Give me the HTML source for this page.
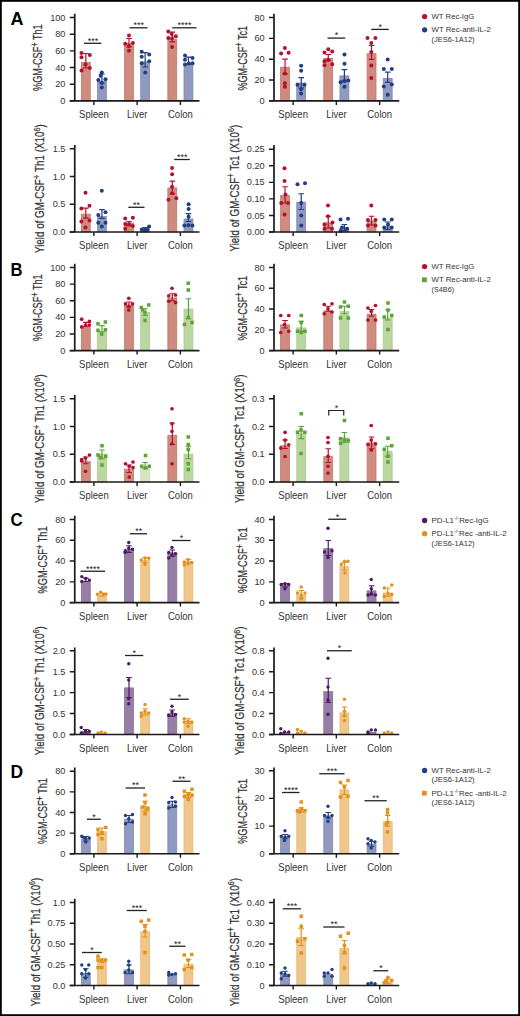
<!DOCTYPE html>
<html><head><meta charset="utf-8"><style>
html,body{margin:0;padding:0;background:#fff;}
body{width:520px;height:1016px;overflow:hidden;}
svg{display:block;font-family:"Liberation Sans", sans-serif;}
</style></head><body>
<svg width="520" height="1016" viewBox="0 0 520 1016">
<rect x="0" y="0" width="520" height="1016" fill="#fff"/>
<rect x="81.35" y="62.4" width="8.9" height="38.5" fill="#CF8B7F" stroke="#C47868" stroke-width="0.8"/>
<rect x="97.5" y="81.2" width="8.9" height="19.7" fill="#9199C0" stroke="#8089B6" stroke-width="0.8"/>
<rect x="124.55" y="43.4" width="8.9" height="57.5" fill="#CF8B7F" stroke="#C47868" stroke-width="0.8"/>
<rect x="140.7" y="61.9" width="8.9" height="39" fill="#9199C0" stroke="#8089B6" stroke-width="0.8"/>
<rect x="167.85" y="39.2" width="8.9" height="61.7" fill="#CF8B7F" stroke="#C47868" stroke-width="0.8"/>
<rect x="184" y="63.9" width="8.9" height="37" fill="#9199C0" stroke="#8089B6" stroke-width="0.8"/>
<circle cx="81.5" cy="53.1" r="2" fill="#B5112F"/>
<circle cx="89.8" cy="55.1" r="2" fill="#B5112F"/>
<circle cx="81.5" cy="57.2" r="2" fill="#B5112F"/>
<circle cx="85.5" cy="64.6" r="2" fill="#B5112F"/>
<circle cx="89.8" cy="68" r="2" fill="#B5112F"/>
<circle cx="81.5" cy="70.5" r="2" fill="#B5112F"/>
<path d="M85.8 53.5V68M83 68H88.6M83 53.5H88.6" stroke="#B5112F" stroke-width="1.2" fill="none"/>
<circle cx="101.8" cy="72.6" r="2" fill="#1F3F82"/>
<circle cx="100.6" cy="75.7" r="2" fill="#1F3F82"/>
<circle cx="98.3" cy="80" r="2" fill="#1F3F82"/>
<circle cx="105.5" cy="79.2" r="2" fill="#1F3F82"/>
<circle cx="101.8" cy="83.1" r="2" fill="#1F3F82"/>
<circle cx="101.8" cy="87.4" r="2" fill="#1F3F82"/>
<path d="M101.95 74V83M99.15 83H104.75M99.15 74H104.75" stroke="#1F3F82" stroke-width="1.2" fill="none"/>
<circle cx="129" cy="35.4" r="2" fill="#B5112F"/>
<circle cx="125.2" cy="43.8" r="2" fill="#B5112F"/>
<circle cx="132.9" cy="43.1" r="2" fill="#B5112F"/>
<circle cx="129" cy="46" r="2" fill="#B5112F"/>
<circle cx="129" cy="50.8" r="2" fill="#B5112F"/>
<path d="M129 38.5V47M126.2 47H131.8M126.2 38.5H131.8" stroke="#B5112F" stroke-width="1.2" fill="none"/>
<circle cx="141.7" cy="51.7" r="2" fill="#1F3F82"/>
<circle cx="149.2" cy="54.4" r="2" fill="#1F3F82"/>
<circle cx="141.7" cy="56.7" r="2" fill="#1F3F82"/>
<circle cx="149.2" cy="61.3" r="2" fill="#1F3F82"/>
<circle cx="141.7" cy="63.3" r="2" fill="#1F3F82"/>
<circle cx="145.2" cy="72.5" r="2" fill="#1F3F82"/>
<path d="M145.15 52.6V67M142.35 67H147.95M142.35 52.6H147.95" stroke="#1F3F82" stroke-width="1.2" fill="none"/>
<circle cx="168.3" cy="31.5" r="2" fill="#B5112F"/>
<circle cx="171.7" cy="34.1" r="2" fill="#B5112F"/>
<circle cx="175.8" cy="36.2" r="2" fill="#B5112F"/>
<circle cx="168.3" cy="37.9" r="2" fill="#B5112F"/>
<circle cx="172" cy="38.5" r="2" fill="#B5112F"/>
<circle cx="172.1" cy="47.1" r="2" fill="#B5112F"/>
<path d="M172.3 32.1V41.9M169.5 41.9H175.1M169.5 32.1H175.1" stroke="#B5112F" stroke-width="1.2" fill="none"/>
<circle cx="185" cy="55.5" r="2" fill="#1F3F82"/>
<circle cx="192.5" cy="58.1" r="2" fill="#1F3F82"/>
<circle cx="185" cy="59.8" r="2" fill="#1F3F82"/>
<circle cx="185" cy="64.4" r="2" fill="#1F3F82"/>
<circle cx="188.8" cy="63.5" r="2" fill="#1F3F82"/>
<circle cx="192.5" cy="63.3" r="2" fill="#1F3F82"/>
<path d="M188.45 57.1V64.4M185.65 64.4H191.25M185.65 57.1H191.25" stroke="#1F3F82" stroke-width="1.2" fill="none"/>
<path d="M74.75 13.75V100.9M69.75 100.9H199.5" stroke="#1a1a1a" stroke-width="1.7" fill="none"/>
<path d="M69.75 17.5H74.75M69.75 34.18H74.75M69.75 50.86H74.75M69.75 67.54H74.75M69.75 84.22H74.75M69.75 100.9H74.75M93.9 100.9V104.9M137.1 100.9V104.9M180.4 100.9V104.9" stroke="#1a1a1a" stroke-width="1.4" fill="none"/>
<text x="65.45" y="20.55" font-size="9.3" fill="#333" text-anchor="end" textLength="15.28" lengthAdjust="spacingAndGlyphs">100</text>
<text x="65.45" y="37.23" font-size="9.3" fill="#333" text-anchor="end" textLength="10.19" lengthAdjust="spacingAndGlyphs">80</text>
<text x="65.45" y="53.91" font-size="9.3" fill="#333" text-anchor="end" textLength="10.19" lengthAdjust="spacingAndGlyphs">60</text>
<text x="65.45" y="70.59" font-size="9.3" fill="#333" text-anchor="end" textLength="10.19" lengthAdjust="spacingAndGlyphs">40</text>
<text x="65.45" y="87.27" font-size="9.3" fill="#333" text-anchor="end" textLength="10.19" lengthAdjust="spacingAndGlyphs">20</text>
<text x="65.45" y="103.95" font-size="9.3" fill="#333" text-anchor="end" textLength="5.09" lengthAdjust="spacingAndGlyphs">0</text>
<text x="93.9" y="118.2" font-size="10.9" fill="#333" text-anchor="middle" textLength="29.6" lengthAdjust="spacingAndGlyphs">Spleen</text>
<text x="137.1" y="118.2" font-size="10.9" fill="#333" text-anchor="middle" textLength="20.4" lengthAdjust="spacingAndGlyphs">Liver</text>
<text x="180.4" y="118.2" font-size="10.9" fill="#333" text-anchor="middle" textLength="24.8" lengthAdjust="spacingAndGlyphs">Colon</text>
<path d="M84 43.3H101.4" stroke="#222" stroke-width="1.3" fill="none"/>
<text x="92.9" y="43.6" font-size="8.5" fill="#222" text-anchor="middle" textLength="10.5" lengthAdjust="spacingAndGlyphs">***</text>
<path d="M129.5 27.8H147.5" stroke="#222" stroke-width="1.3" fill="none"/>
<text x="138.7" y="28.1" font-size="8.5" fill="#222" text-anchor="middle" textLength="10.5" lengthAdjust="spacingAndGlyphs">***</text>
<path d="M172.3 27.8H196.5" stroke="#222" stroke-width="1.3" fill="none"/>
<text x="184.6" y="28.1" font-size="8.5" fill="#222" text-anchor="middle" textLength="14" lengthAdjust="spacingAndGlyphs">****</text>
<text transform="translate(42 57.6) rotate(-90)" x="0" y="0" font-size="13" fill="#333" stroke="#333" stroke-width="0.22" text-anchor="middle" textLength="66.6" lengthAdjust="spacingAndGlyphs">%GM-CSF<tspan dy="-4.1" font-size="10.5">+</tspan><tspan dy="4.1"> </tspan>Th1</text>
<rect x="280.6" y="67.2" width="8.9" height="33.7" fill="#CF8B7F" stroke="#C47868" stroke-width="0.8"/>
<rect x="296.75" y="83.1" width="8.9" height="17.8" fill="#9199C0" stroke="#8089B6" stroke-width="0.8"/>
<rect x="323.8" y="58.5" width="8.9" height="42.4" fill="#CF8B7F" stroke="#C47868" stroke-width="0.8"/>
<rect x="339.95" y="75.9" width="8.9" height="25" fill="#9199C0" stroke="#8089B6" stroke-width="0.8"/>
<rect x="367.1" y="53.7" width="8.9" height="47.2" fill="#CF8B7F" stroke="#C47868" stroke-width="0.8"/>
<rect x="383.25" y="78.4" width="8.9" height="22.5" fill="#9199C0" stroke="#8089B6" stroke-width="0.8"/>
<circle cx="284.9" cy="48.1" r="2" fill="#B5112F"/>
<circle cx="281.1" cy="53.5" r="2" fill="#B5112F"/>
<circle cx="288.6" cy="52.7" r="2" fill="#B5112F"/>
<circle cx="284.9" cy="73.5" r="2" fill="#B5112F"/>
<circle cx="284.9" cy="83.2" r="2" fill="#B5112F"/>
<circle cx="284.9" cy="86.8" r="2" fill="#B5112F"/>
<path d="M285.05 59.2V73.9M282.25 73.9H287.85M282.25 59.2H287.85" stroke="#B5112F" stroke-width="1.2" fill="none"/>
<circle cx="301.1" cy="65.8" r="2" fill="#1F3F82"/>
<circle cx="301.1" cy="70.8" r="2" fill="#1F3F82"/>
<circle cx="297.5" cy="84.7" r="2" fill="#1F3F82"/>
<circle cx="304.5" cy="84.7" r="2" fill="#1F3F82"/>
<circle cx="301.1" cy="89.3" r="2" fill="#1F3F82"/>
<circle cx="301.1" cy="93.5" r="2" fill="#1F3F82"/>
<path d="M301.2 77.6V88M298.4 88H304M298.4 77.6H304" stroke="#1F3F82" stroke-width="1.2" fill="none"/>
<circle cx="324.5" cy="52.4" r="2" fill="#B5112F"/>
<circle cx="328.3" cy="49.3" r="2" fill="#B5112F"/>
<circle cx="332.2" cy="51.5" r="2" fill="#B5112F"/>
<circle cx="324.5" cy="61.2" r="2" fill="#B5112F"/>
<circle cx="328.3" cy="60.1" r="2" fill="#B5112F"/>
<circle cx="324.5" cy="65.3" r="2" fill="#B5112F"/>
<circle cx="332.2" cy="64.2" r="2" fill="#B5112F"/>
<path d="M328.25 54.5V60.4M325.45 60.4H331.05M325.45 54.5H331.05" stroke="#B5112F" stroke-width="1.2" fill="none"/>
<circle cx="344.5" cy="54.5" r="2" fill="#1F3F82"/>
<circle cx="344.5" cy="63.8" r="2" fill="#1F3F82"/>
<circle cx="340.6" cy="82.2" r="2" fill="#1F3F82"/>
<circle cx="344.5" cy="81" r="2" fill="#1F3F82"/>
<circle cx="348.3" cy="80.4" r="2" fill="#1F3F82"/>
<circle cx="344.5" cy="86.8" r="2" fill="#1F3F82"/>
<path d="M344.4 69.6V81M341.6 81H347.2M341.6 69.6H347.2" stroke="#1F3F82" stroke-width="1.2" fill="none"/>
<circle cx="367.5" cy="37.9" r="2" fill="#B5112F"/>
<circle cx="375.4" cy="37.9" r="2" fill="#B5112F"/>
<circle cx="371.3" cy="42.9" r="2" fill="#B5112F"/>
<circle cx="371.3" cy="52.1" r="2" fill="#B5112F"/>
<circle cx="371.3" cy="65.6" r="2" fill="#B5112F"/>
<circle cx="371.3" cy="78.1" r="2" fill="#B5112F"/>
<path d="M371.55 45.5V59.4M368.75 59.4H374.35M368.75 45.5H374.35" stroke="#B5112F" stroke-width="1.2" fill="none"/>
<circle cx="387.7" cy="59.6" r="2" fill="#1F3F82"/>
<circle cx="383.8" cy="69.1" r="2" fill="#1F3F82"/>
<circle cx="391.8" cy="69.1" r="2" fill="#1F3F82"/>
<circle cx="383.8" cy="86.4" r="2" fill="#1F3F82"/>
<circle cx="391.8" cy="84.4" r="2" fill="#1F3F82"/>
<circle cx="387.7" cy="94.8" r="2" fill="#1F3F82"/>
<path d="M387.7 72.1V82.4M384.9 82.4H390.5M384.9 72.1H390.5" stroke="#1F3F82" stroke-width="1.2" fill="none"/>
<path d="M274 13.75V100.9M269 100.9H399.25" stroke="#1a1a1a" stroke-width="1.7" fill="none"/>
<path d="M269 17.5H274M269 38.35H274M269 59.2H274M269 80.05H274M269 100.9H274M293.15 100.9V104.9M336.35 100.9V104.9M379.65 100.9V104.9" stroke="#1a1a1a" stroke-width="1.4" fill="none"/>
<text x="264.7" y="20.55" font-size="9.3" fill="#333" text-anchor="end" textLength="10.19" lengthAdjust="spacingAndGlyphs">80</text>
<text x="264.7" y="41.4" font-size="9.3" fill="#333" text-anchor="end" textLength="10.19" lengthAdjust="spacingAndGlyphs">60</text>
<text x="264.7" y="62.25" font-size="9.3" fill="#333" text-anchor="end" textLength="10.19" lengthAdjust="spacingAndGlyphs">40</text>
<text x="264.7" y="83.1" font-size="9.3" fill="#333" text-anchor="end" textLength="10.19" lengthAdjust="spacingAndGlyphs">20</text>
<text x="264.7" y="103.95" font-size="9.3" fill="#333" text-anchor="end" textLength="5.09" lengthAdjust="spacingAndGlyphs">0</text>
<text x="293.15" y="118.2" font-size="10.9" fill="#333" text-anchor="middle" textLength="29.6" lengthAdjust="spacingAndGlyphs">Spleen</text>
<text x="336.35" y="118.2" font-size="10.9" fill="#333" text-anchor="middle" textLength="20.4" lengthAdjust="spacingAndGlyphs">Liver</text>
<text x="379.65" y="118.2" font-size="10.9" fill="#333" text-anchor="middle" textLength="24.8" lengthAdjust="spacingAndGlyphs">Colon</text>
<path d="M327.5 38.1H345.2" stroke="#222" stroke-width="1.3" fill="none"/>
<text x="336.55" y="38.4" font-size="8.5" fill="#222" text-anchor="middle" textLength="3.5" lengthAdjust="spacingAndGlyphs">*</text>
<path d="M371.25 29.4H388.75" stroke="#222" stroke-width="1.3" fill="none"/>
<text x="380.2" y="29.7" font-size="8.5" fill="#222" text-anchor="middle" textLength="3.5" lengthAdjust="spacingAndGlyphs">*</text>
<text transform="translate(246.5 58.25) rotate(-90)" x="0" y="0" font-size="13" fill="#333" stroke="#333" stroke-width="0.22" text-anchor="middle" textLength="64.7" lengthAdjust="spacingAndGlyphs">%GM-CSF<tspan dy="-4.1" font-size="10.5">+</tspan><tspan dy="4.1"> </tspan>Tc1</text>
<rect x="81.35" y="214.2" width="8.9" height="17.8" fill="#CF8B7F" stroke="#C47868" stroke-width="0.8"/>
<rect x="97.5" y="216.6" width="8.9" height="15.4" fill="#9199C0" stroke="#8089B6" stroke-width="0.8"/>
<rect x="124.55" y="223.1" width="8.9" height="8.9" fill="#CF8B7F" stroke="#C47868" stroke-width="0.8"/>
<rect x="140.7" y="228.9" width="8.9" height="3.1" fill="#9199C0" stroke="#8089B6" stroke-width="0.8"/>
<rect x="167.85" y="187.9" width="8.9" height="44.1" fill="#CF8B7F" stroke="#C47868" stroke-width="0.8"/>
<rect x="184" y="219" width="8.9" height="13" fill="#9199C0" stroke="#8089B6" stroke-width="0.8"/>
<circle cx="85.5" cy="192.7" r="2" fill="#B5112F"/>
<circle cx="81.4" cy="208.5" r="2" fill="#B5112F"/>
<circle cx="89.5" cy="205.8" r="2" fill="#B5112F"/>
<circle cx="81.4" cy="221.5" r="2" fill="#B5112F"/>
<circle cx="89.5" cy="220.4" r="2" fill="#B5112F"/>
<circle cx="85.5" cy="227.6" r="2" fill="#B5112F"/>
<path d="M85.8 208.1V218.1M83 218.1H88.6M83 208.1H88.6" stroke="#B5112F" stroke-width="1.2" fill="none"/>
<circle cx="101.8" cy="190.7" r="2" fill="#1F3F82"/>
<circle cx="98.3" cy="215" r="2" fill="#1F3F82"/>
<circle cx="105.5" cy="212.2" r="2" fill="#1F3F82"/>
<circle cx="98.3" cy="222.7" r="2" fill="#1F3F82"/>
<circle cx="105.5" cy="222.7" r="2" fill="#1F3F82"/>
<circle cx="101.8" cy="226.5" r="2" fill="#1F3F82"/>
<path d="M101.95 209.6V218.4M99.15 218.4H104.75M99.15 209.6H104.75" stroke="#1F3F82" stroke-width="1.2" fill="none"/>
<circle cx="125.2" cy="218.4" r="2" fill="#B5112F"/>
<circle cx="132.9" cy="217.8" r="2" fill="#B5112F"/>
<circle cx="125.2" cy="223.9" r="2" fill="#B5112F"/>
<circle cx="129.1" cy="224.2" r="2" fill="#B5112F"/>
<circle cx="132.9" cy="226.1" r="2" fill="#B5112F"/>
<circle cx="125.2" cy="228.8" r="2" fill="#B5112F"/>
<path d="M129 221.5V225.8M126.2 225.8H131.8M126.2 221.5H131.8" stroke="#B5112F" stroke-width="1.2" fill="none"/>
<circle cx="141.8" cy="229.6" r="2" fill="#1F3F82"/>
<circle cx="144.5" cy="230" r="2" fill="#1F3F82"/>
<circle cx="147.1" cy="229.6" r="2" fill="#1F3F82"/>
<circle cx="149.1" cy="226.5" r="2" fill="#1F3F82"/>
<circle cx="146" cy="230.5" r="2" fill="#1F3F82"/>
<path d="M145.15 227.5V230.5M142.35 230.5H147.95M142.35 227.5H147.95" stroke="#1F3F82" stroke-width="1.2" fill="none"/>
<circle cx="172.1" cy="167.9" r="2" fill="#B5112F"/>
<circle cx="172.1" cy="174.2" r="2" fill="#B5112F"/>
<circle cx="172.1" cy="186.7" r="2" fill="#B5112F"/>
<circle cx="172.1" cy="193.3" r="2" fill="#B5112F"/>
<circle cx="168.5" cy="199.8" r="2" fill="#B5112F"/>
<circle cx="176.3" cy="198.2" r="2" fill="#B5112F"/>
<path d="M172.3 181.1V193.8M169.5 193.8H175.1M169.5 181.1H175.1" stroke="#B5112F" stroke-width="1.2" fill="none"/>
<circle cx="188.6" cy="204.2" r="2" fill="#1F3F82"/>
<circle cx="188.6" cy="209.1" r="2" fill="#1F3F82"/>
<circle cx="188.6" cy="216.7" r="2" fill="#1F3F82"/>
<circle cx="184.4" cy="225.5" r="2" fill="#1F3F82"/>
<circle cx="188.4" cy="225.2" r="2" fill="#1F3F82"/>
<circle cx="192.4" cy="225.5" r="2" fill="#1F3F82"/>
<path d="M188.45 213.7V221.5M185.65 221.5H191.25M185.65 213.7H191.25" stroke="#1F3F82" stroke-width="1.2" fill="none"/>
<path d="M74.75 145V232M69.75 232H199.5" stroke="#1a1a1a" stroke-width="1.7" fill="none"/>
<path d="M69.75 148.75H74.75M69.75 176.5H74.75M69.75 204.25H74.75M69.75 232H74.75M93.9 232V236M137.1 232V236M180.4 232V236" stroke="#1a1a1a" stroke-width="1.4" fill="none"/>
<text x="65.45" y="151.8" font-size="9.3" fill="#333" text-anchor="end" textLength="12.73" lengthAdjust="spacingAndGlyphs">1.5</text>
<text x="65.45" y="179.55" font-size="9.3" fill="#333" text-anchor="end" textLength="12.73" lengthAdjust="spacingAndGlyphs">1.0</text>
<text x="65.45" y="207.3" font-size="9.3" fill="#333" text-anchor="end" textLength="12.73" lengthAdjust="spacingAndGlyphs">0.5</text>
<text x="65.45" y="235.05" font-size="9.3" fill="#333" text-anchor="end" textLength="12.73" lengthAdjust="spacingAndGlyphs">0.0</text>
<text x="93.9" y="249.3" font-size="10.9" fill="#333" text-anchor="middle" textLength="29.6" lengthAdjust="spacingAndGlyphs">Spleen</text>
<text x="137.1" y="249.3" font-size="10.9" fill="#333" text-anchor="middle" textLength="20.4" lengthAdjust="spacingAndGlyphs">Liver</text>
<text x="180.4" y="249.3" font-size="10.9" fill="#333" text-anchor="middle" textLength="24.8" lengthAdjust="spacingAndGlyphs">Colon</text>
<path d="M128.3 207.3H144.5" stroke="#222" stroke-width="1.3" fill="none"/>
<text x="136.6" y="207.6" font-size="8.5" fill="#222" text-anchor="middle" textLength="7" lengthAdjust="spacingAndGlyphs">**</text>
<path d="M174.2 159.5H189.8" stroke="#222" stroke-width="1.3" fill="none"/>
<text x="182.2" y="159.8" font-size="8.5" fill="#222" text-anchor="middle" textLength="10.5" lengthAdjust="spacingAndGlyphs">***</text>
<text transform="translate(44.4 188.65) rotate(-90)" x="0" y="0" font-size="13" fill="#333" stroke="#333" stroke-width="0.22" text-anchor="middle" textLength="128.7" lengthAdjust="spacingAndGlyphs">Yield of GM-CSF<tspan dy="-4.1" font-size="10.5">+</tspan><tspan dy="4.1"> </tspan>Th1 (X10<tspan dy="-4.4" font-size="9.5">6</tspan><tspan dy="4.4">)</tspan></text>
<rect x="280.6" y="195.4" width="8.9" height="36.6" fill="#CF8B7F" stroke="#C47868" stroke-width="0.8"/>
<rect x="296.75" y="202.15" width="8.9" height="29.85" fill="#9199C0" stroke="#8089B6" stroke-width="0.8"/>
<rect x="323.8" y="222.9" width="8.9" height="9.1" fill="#CF8B7F" stroke="#C47868" stroke-width="0.8"/>
<rect x="339.95" y="227.9" width="8.9" height="4.1" fill="#9199C0" stroke="#8089B6" stroke-width="0.8"/>
<rect x="367.1" y="221.15" width="8.9" height="10.85" fill="#CF8B7F" stroke="#C47868" stroke-width="0.8"/>
<rect x="383.25" y="226.65" width="8.9" height="5.35" fill="#9199C0" stroke="#8089B6" stroke-width="0.8"/>
<circle cx="284.5" cy="168.25" r="2" fill="#B5112F"/>
<circle cx="284.5" cy="181" r="2" fill="#B5112F"/>
<circle cx="285.5" cy="194.5" r="2" fill="#B5112F"/>
<circle cx="281.25" cy="203" r="2" fill="#B5112F"/>
<circle cx="288" cy="203" r="2" fill="#B5112F"/>
<circle cx="284.5" cy="214.5" r="2" fill="#B5112F"/>
<path d="M285.05 186.75V203M282.25 203H287.85M282.25 186.75H287.85" stroke="#B5112F" stroke-width="1.2" fill="none"/>
<circle cx="297.5" cy="184.25" r="2" fill="#1F3F82"/>
<circle cx="305" cy="183.25" r="2" fill="#1F3F82"/>
<circle cx="301.25" cy="203" r="2" fill="#1F3F82"/>
<circle cx="301.25" cy="215.5" r="2" fill="#1F3F82"/>
<circle cx="301.25" cy="225.5" r="2" fill="#1F3F82"/>
<path d="M301.2 193.75V209.5M298.4 209.5H304M298.4 193.75H304" stroke="#1F3F82" stroke-width="1.2" fill="none"/>
<circle cx="328" cy="205.5" r="2" fill="#B5112F"/>
<circle cx="328" cy="216.25" r="2" fill="#B5112F"/>
<circle cx="324.5" cy="224.5" r="2" fill="#B5112F"/>
<circle cx="332.5" cy="222.5" r="2" fill="#B5112F"/>
<circle cx="324.5" cy="228.75" r="2" fill="#B5112F"/>
<circle cx="332" cy="228.75" r="2" fill="#B5112F"/>
<path d="M328.25 216.25V228M325.45 228H331.05M325.45 216.25H331.05" stroke="#B5112F" stroke-width="1.2" fill="none"/>
<circle cx="340.5" cy="219.5" r="2" fill="#1F3F82"/>
<circle cx="348" cy="218.75" r="2" fill="#1F3F82"/>
<circle cx="342" cy="227.5" r="2" fill="#1F3F82"/>
<circle cx="347" cy="228.75" r="2" fill="#1F3F82"/>
<circle cx="340.5" cy="231" r="2" fill="#1F3F82"/>
<path d="M344.4 224.5V230.5M341.6 230.5H347.2M341.6 224.5H347.2" stroke="#1F3F82" stroke-width="1.2" fill="none"/>
<circle cx="371.25" cy="205.5" r="2" fill="#B5112F"/>
<circle cx="368" cy="220" r="2" fill="#B5112F"/>
<circle cx="375.5" cy="220" r="2" fill="#B5112F"/>
<circle cx="368" cy="225.5" r="2" fill="#B5112F"/>
<circle cx="375.5" cy="225.5" r="2" fill="#B5112F"/>
<path d="M371.55 216.25V225M368.75 225H374.35M368.75 216.25H374.35" stroke="#B5112F" stroke-width="1.2" fill="none"/>
<circle cx="384.25" cy="219.5" r="2" fill="#1F3F82"/>
<circle cx="391.75" cy="219.5" r="2" fill="#1F3F82"/>
<circle cx="384.25" cy="227.5" r="2" fill="#1F3F82"/>
<circle cx="391.75" cy="227.5" r="2" fill="#1F3F82"/>
<circle cx="388" cy="224.5" r="2" fill="#1F3F82"/>
<path d="M387.7 222V229.5M384.9 229.5H390.5M384.9 222H390.5" stroke="#1F3F82" stroke-width="1.2" fill="none"/>
<path d="M274 145V232M269 232H399.25" stroke="#1a1a1a" stroke-width="1.7" fill="none"/>
<path d="M269 149.25H274M269 165.8H274M269 182.35H274M269 198.9H274M269 215.45H274M269 232H274M293.15 232V236M336.35 232V236M379.65 232V236" stroke="#1a1a1a" stroke-width="1.4" fill="none"/>
<text x="264.7" y="152.3" font-size="9.3" fill="#333" text-anchor="end" textLength="17.83" lengthAdjust="spacingAndGlyphs">0.25</text>
<text x="264.7" y="168.85" font-size="9.3" fill="#333" text-anchor="end" textLength="17.83" lengthAdjust="spacingAndGlyphs">0.20</text>
<text x="264.7" y="185.4" font-size="9.3" fill="#333" text-anchor="end" textLength="17.83" lengthAdjust="spacingAndGlyphs">0.15</text>
<text x="264.7" y="201.95" font-size="9.3" fill="#333" text-anchor="end" textLength="17.83" lengthAdjust="spacingAndGlyphs">0.10</text>
<text x="264.7" y="218.5" font-size="9.3" fill="#333" text-anchor="end" textLength="17.83" lengthAdjust="spacingAndGlyphs">0.05</text>
<text x="264.7" y="235.05" font-size="9.3" fill="#333" text-anchor="end" textLength="17.83" lengthAdjust="spacingAndGlyphs">0.00</text>
<text x="293.15" y="249.3" font-size="10.9" fill="#333" text-anchor="middle" textLength="29.6" lengthAdjust="spacingAndGlyphs">Spleen</text>
<text x="336.35" y="249.3" font-size="10.9" fill="#333" text-anchor="middle" textLength="20.4" lengthAdjust="spacingAndGlyphs">Liver</text>
<text x="379.65" y="249.3" font-size="10.9" fill="#333" text-anchor="middle" textLength="24.8" lengthAdjust="spacingAndGlyphs">Colon</text>
<text transform="translate(238.5 188.15) rotate(-90)" x="0" y="0" font-size="13" fill="#333" stroke="#333" stroke-width="0.22" text-anchor="middle" textLength="126.7" lengthAdjust="spacingAndGlyphs">Yield of GM-CSF<tspan dy="-4.1" font-size="10.5">+</tspan><tspan dy="4.1"> </tspan>Tc1 (X10<tspan dy="-4.4" font-size="9.5">6</tspan><tspan dy="4.4">)</tspan></text>
<rect x="81.35" y="327.4" width="8.9" height="23.2" fill="#CF8B7F" stroke="#C47868" stroke-width="0.8"/>
<rect x="97.5" y="331.6" width="8.9" height="19" fill="#BCD6A2" stroke="#AACB8C" stroke-width="0.8"/>
<rect x="124.55" y="305.4" width="8.9" height="45.2" fill="#CF8B7F" stroke="#C47868" stroke-width="0.8"/>
<rect x="140.7" y="312.4" width="8.9" height="38.2" fill="#BCD6A2" stroke="#AACB8C" stroke-width="0.8"/>
<rect x="167.85" y="297.9" width="8.9" height="52.7" fill="#CF8B7F" stroke="#C47868" stroke-width="0.8"/>
<rect x="184" y="309.15" width="8.9" height="41.45" fill="#BCD6A2" stroke="#AACB8C" stroke-width="0.8"/>
<circle cx="81.7" cy="319.2" r="1.85" fill="#B5112F"/>
<circle cx="89.4" cy="321.4" r="1.85" fill="#B5112F"/>
<circle cx="81.7" cy="326.9" r="1.85" fill="#B5112F"/>
<circle cx="85.7" cy="325.1" r="1.85" fill="#B5112F"/>
<circle cx="89.4" cy="325.1" r="1.85" fill="#B5112F"/>
<path d="M85.8 322.3V326.5M83 326.5H88.6M83 322.3H88.6" stroke="#B5112F" stroke-width="1.2" fill="none"/>
<rect x="96.25" y="322.05" width="3.5" height="3.5" fill="#5AA536"/>
<rect x="103.65" y="320.25" width="3.5" height="3.5" fill="#5AA536"/>
<rect x="96.25" y="328.55" width="3.5" height="3.5" fill="#5AA536"/>
<rect x="103.65" y="327.95" width="3.5" height="3.5" fill="#5AA536"/>
<rect x="99.95" y="332.25" width="3.5" height="3.5" fill="#5AA536"/>
<path d="M101.95 325.7V332M99.15 332H104.75M99.15 325.7H104.75" stroke="#5AA536" stroke-width="1.2" fill="none"/>
<circle cx="128.75" cy="298.25" r="1.85" fill="#B5112F"/>
<circle cx="125.5" cy="303.75" r="1.85" fill="#B5112F"/>
<circle cx="132.5" cy="303.75" r="1.85" fill="#B5112F"/>
<circle cx="128.75" cy="306.25" r="1.85" fill="#B5112F"/>
<circle cx="128.75" cy="310" r="1.85" fill="#B5112F"/>
<path d="M129 302V307M126.2 307H131.8M126.2 302H131.8" stroke="#B5112F" stroke-width="1.2" fill="none"/>
<rect x="139.5" y="305.75" width="3.5" height="3.5" fill="#5AA536"/>
<rect x="147" y="303.25" width="3.5" height="3.5" fill="#5AA536"/>
<rect x="143.25" y="310.75" width="3.5" height="3.5" fill="#5AA536"/>
<rect x="143.25" y="318.75" width="3.5" height="3.5" fill="#5AA536"/>
<rect x="140.75" y="308.25" width="3.5" height="3.5" fill="#5AA536"/>
<path d="M145.15 308.75V315.5M142.35 315.5H147.95M142.35 308.75H147.95" stroke="#5AA536" stroke-width="1.2" fill="none"/>
<circle cx="172" cy="288.25" r="1.85" fill="#B5112F"/>
<circle cx="168.75" cy="295.75" r="1.85" fill="#B5112F"/>
<circle cx="175.5" cy="295" r="1.85" fill="#B5112F"/>
<circle cx="168.75" cy="301.25" r="1.85" fill="#B5112F"/>
<circle cx="175.5" cy="302.5" r="1.85" fill="#B5112F"/>
<path d="M172.3 293.75V300.75M169.5 300.75H175.1M169.5 293.75H175.1" stroke="#B5112F" stroke-width="1.2" fill="none"/>
<rect x="186.5" y="281.5" width="3.5" height="3.5" fill="#5AA536"/>
<rect x="186.5" y="288.25" width="3.5" height="3.5" fill="#5AA536"/>
<rect x="186.5" y="315.75" width="3.5" height="3.5" fill="#5AA536"/>
<rect x="182.75" y="322.75" width="3.5" height="3.5" fill="#5AA536"/>
<rect x="190.25" y="320.75" width="3.5" height="3.5" fill="#5AA536"/>
<path d="M188.45 298.75V318.75M185.65 318.75H191.25M185.65 298.75H191.25" stroke="#5AA536" stroke-width="1.2" fill="none"/>
<path d="M74.75 263.75V350.6M69.75 350.6H199.5" stroke="#1a1a1a" stroke-width="1.7" fill="none"/>
<path d="M69.75 267.5H74.75M69.75 284.12H74.75M69.75 300.74H74.75M69.75 317.36H74.75M69.75 333.98H74.75M69.75 350.6H74.75M93.9 350.6V354.6M137.1 350.6V354.6M180.4 350.6V354.6" stroke="#1a1a1a" stroke-width="1.4" fill="none"/>
<text x="65.45" y="270.55" font-size="9.3" fill="#333" text-anchor="end" textLength="15.28" lengthAdjust="spacingAndGlyphs">100</text>
<text x="65.45" y="287.17" font-size="9.3" fill="#333" text-anchor="end" textLength="10.19" lengthAdjust="spacingAndGlyphs">80</text>
<text x="65.45" y="303.79" font-size="9.3" fill="#333" text-anchor="end" textLength="10.19" lengthAdjust="spacingAndGlyphs">60</text>
<text x="65.45" y="320.41" font-size="9.3" fill="#333" text-anchor="end" textLength="10.19" lengthAdjust="spacingAndGlyphs">40</text>
<text x="65.45" y="337.03" font-size="9.3" fill="#333" text-anchor="end" textLength="10.19" lengthAdjust="spacingAndGlyphs">20</text>
<text x="65.45" y="353.65" font-size="9.3" fill="#333" text-anchor="end" textLength="5.09" lengthAdjust="spacingAndGlyphs">0</text>
<text x="93.9" y="367.9" font-size="10.9" fill="#333" text-anchor="middle" textLength="29.6" lengthAdjust="spacingAndGlyphs">Spleen</text>
<text x="137.1" y="367.9" font-size="10.9" fill="#333" text-anchor="middle" textLength="20.4" lengthAdjust="spacingAndGlyphs">Liver</text>
<text x="180.4" y="367.9" font-size="10.9" fill="#333" text-anchor="middle" textLength="24.8" lengthAdjust="spacingAndGlyphs">Colon</text>
<text transform="translate(42 307.6) rotate(-90)" x="0" y="0" font-size="13" fill="#333" stroke="#333" stroke-width="0.22" text-anchor="middle" textLength="66.6" lengthAdjust="spacingAndGlyphs">%GM-CSF<tspan dy="-4.1" font-size="10.5">+</tspan><tspan dy="4.1"> </tspan>Th1</text>
<rect x="280.6" y="324.9" width="8.9" height="25.7" fill="#CF8B7F" stroke="#C47868" stroke-width="0.8"/>
<rect x="296.75" y="327.9" width="8.9" height="22.7" fill="#BCD6A2" stroke="#AACB8C" stroke-width="0.8"/>
<rect x="323.8" y="310.9" width="8.9" height="39.7" fill="#CF8B7F" stroke="#C47868" stroke-width="0.8"/>
<rect x="339.95" y="311.65" width="8.9" height="38.95" fill="#BCD6A2" stroke="#AACB8C" stroke-width="0.8"/>
<rect x="367.1" y="314.15" width="8.9" height="36.45" fill="#CF8B7F" stroke="#C47868" stroke-width="0.8"/>
<rect x="383.25" y="317.9" width="8.9" height="32.7" fill="#BCD6A2" stroke="#AACB8C" stroke-width="0.8"/>
<circle cx="280.75" cy="315.5" r="1.85" fill="#B5112F"/>
<circle cx="288.75" cy="315.5" r="1.85" fill="#B5112F"/>
<circle cx="284.5" cy="324.5" r="1.85" fill="#B5112F"/>
<circle cx="280.75" cy="332.5" r="1.85" fill="#B5112F"/>
<circle cx="288.75" cy="331.25" r="1.85" fill="#B5112F"/>
<path d="M285.05 320.5V328M282.25 328H287.85M282.25 320.5H287.85" stroke="#B5112F" stroke-width="1.2" fill="none"/>
<rect x="299.5" y="313.75" width="3.5" height="3.5" fill="#5AA536"/>
<rect x="299.5" y="320.75" width="3.5" height="3.5" fill="#5AA536"/>
<rect x="295.75" y="329.5" width="3.5" height="3.5" fill="#5AA536"/>
<rect x="303.25" y="329.5" width="3.5" height="3.5" fill="#5AA536"/>
<rect x="299.5" y="330.75" width="3.5" height="3.5" fill="#5AA536"/>
<path d="M301.2 321.25V331.25M298.4 331.25H304M298.4 321.25H304" stroke="#5AA536" stroke-width="1.2" fill="none"/>
<circle cx="324.25" cy="304.5" r="1.85" fill="#B5112F"/>
<circle cx="332" cy="303.75" r="1.85" fill="#B5112F"/>
<circle cx="328" cy="308.75" r="1.85" fill="#B5112F"/>
<circle cx="324.25" cy="313.75" r="1.85" fill="#B5112F"/>
<circle cx="332" cy="312" r="1.85" fill="#B5112F"/>
<path d="M328.25 306.25V311.25M325.45 311.25H331.05M325.45 306.25H331.05" stroke="#B5112F" stroke-width="1.2" fill="none"/>
<rect x="342.75" y="300.25" width="3.5" height="3.5" fill="#5AA536"/>
<rect x="346.5" y="304.5" width="3.5" height="3.5" fill="#5AA536"/>
<rect x="338.75" y="305.25" width="3.5" height="3.5" fill="#5AA536"/>
<rect x="338.75" y="316.25" width="3.5" height="3.5" fill="#5AA536"/>
<rect x="346.5" y="316.25" width="3.5" height="3.5" fill="#5AA536"/>
<path d="M344.4 306.25V313.75M341.6 313.75H347.2M341.6 306.25H347.2" stroke="#5AA536" stroke-width="1.2" fill="none"/>
<circle cx="368" cy="308" r="1.85" fill="#B5112F"/>
<circle cx="375.5" cy="305.5" r="1.85" fill="#B5112F"/>
<circle cx="371.25" cy="311.25" r="1.85" fill="#B5112F"/>
<circle cx="368" cy="320" r="1.85" fill="#B5112F"/>
<circle cx="375.5" cy="320" r="1.85" fill="#B5112F"/>
<path d="M371.55 309.5V316.25M368.75 316.25H374.35M368.75 309.5H374.35" stroke="#B5112F" stroke-width="1.2" fill="none"/>
<rect x="386.25" y="301.25" width="3.5" height="3.5" fill="#5AA536"/>
<rect x="386.25" y="308.25" width="3.5" height="3.5" fill="#5AA536"/>
<rect x="382.5" y="315.25" width="3.5" height="3.5" fill="#5AA536"/>
<rect x="390" y="313.75" width="3.5" height="3.5" fill="#5AA536"/>
<rect x="386.25" y="327.75" width="3.5" height="3.5" fill="#5AA536"/>
<path d="M387.7 310V320M384.9 320H390.5M384.9 310H390.5" stroke="#5AA536" stroke-width="1.2" fill="none"/>
<path d="M274 263.75V350.6M269 350.6H399.25" stroke="#1a1a1a" stroke-width="1.7" fill="none"/>
<path d="M269 267.5H274M269 288.27H274M269 309.05H274M269 329.83H274M269 350.6H274M293.15 350.6V354.6M336.35 350.6V354.6M379.65 350.6V354.6" stroke="#1a1a1a" stroke-width="1.4" fill="none"/>
<text x="264.7" y="270.55" font-size="9.3" fill="#333" text-anchor="end" textLength="10.19" lengthAdjust="spacingAndGlyphs">80</text>
<text x="264.7" y="291.32" font-size="9.3" fill="#333" text-anchor="end" textLength="10.19" lengthAdjust="spacingAndGlyphs">60</text>
<text x="264.7" y="312.1" font-size="9.3" fill="#333" text-anchor="end" textLength="10.19" lengthAdjust="spacingAndGlyphs">40</text>
<text x="264.7" y="332.88" font-size="9.3" fill="#333" text-anchor="end" textLength="10.19" lengthAdjust="spacingAndGlyphs">20</text>
<text x="264.7" y="353.65" font-size="9.3" fill="#333" text-anchor="end" textLength="5.09" lengthAdjust="spacingAndGlyphs">0</text>
<text x="293.15" y="367.9" font-size="10.9" fill="#333" text-anchor="middle" textLength="29.6" lengthAdjust="spacingAndGlyphs">Spleen</text>
<text x="336.35" y="367.9" font-size="10.9" fill="#333" text-anchor="middle" textLength="20.4" lengthAdjust="spacingAndGlyphs">Liver</text>
<text x="379.65" y="367.9" font-size="10.9" fill="#333" text-anchor="middle" textLength="24.8" lengthAdjust="spacingAndGlyphs">Colon</text>
<text transform="translate(246.5 308.25) rotate(-90)" x="0" y="0" font-size="13" fill="#333" stroke="#333" stroke-width="0.22" text-anchor="middle" textLength="64.7" lengthAdjust="spacingAndGlyphs">%GM-CSF<tspan dy="-4.1" font-size="10.5">+</tspan><tspan dy="4.1"> </tspan>Tc1</text>
<rect x="81.35" y="461.65" width="8.9" height="20.35" fill="#CF8B7F" stroke="#C47868" stroke-width="0.8"/>
<rect x="97.5" y="454.15" width="8.9" height="27.85" fill="#BCD6A2" stroke="#AACB8C" stroke-width="0.8"/>
<rect x="124.55" y="469.15" width="8.9" height="12.85" fill="#CF8B7F" stroke="#C47868" stroke-width="0.8"/>
<rect x="140.7" y="466.65" width="8.9" height="15.35" fill="#D6E5C4" stroke="#C6DCB0" stroke-width="0.8"/>
<rect x="167.85" y="435.4" width="8.9" height="46.6" fill="#CF8B7F" stroke="#C47868" stroke-width="0.8"/>
<rect x="184" y="454.15" width="8.9" height="27.85" fill="#BCD6A2" stroke="#AACB8C" stroke-width="0.8"/>
<circle cx="81.75" cy="459.5" r="1.85" fill="#B5112F"/>
<circle cx="89.5" cy="455" r="1.85" fill="#B5112F"/>
<circle cx="85.5" cy="458" r="1.85" fill="#B5112F"/>
<circle cx="85.5" cy="471.25" r="1.85" fill="#B5112F"/>
<circle cx="81.75" cy="461" r="1.85" fill="#B5112F"/>
<path d="M85.8 457V463.75M83 463.75H88.6M83 457H88.6" stroke="#B5112F" stroke-width="1.2" fill="none"/>
<rect x="100.25" y="444" width="3.5" height="3.5" fill="#5AA536"/>
<rect x="96.25" y="453.25" width="3.5" height="3.5" fill="#5AA536"/>
<rect x="104" y="454.5" width="3.5" height="3.5" fill="#5AA536"/>
<rect x="100.25" y="463.25" width="3.5" height="3.5" fill="#5AA536"/>
<rect x="98.75" y="455.75" width="3.5" height="3.5" fill="#5AA536"/>
<path d="M101.95 450V458.75M99.15 458.75H104.75M99.15 450H104.75" stroke="#5AA536" stroke-width="1.2" fill="none"/>
<circle cx="125.5" cy="463.75" r="1.85" fill="#B5112F"/>
<circle cx="133" cy="462" r="1.85" fill="#B5112F"/>
<circle cx="129.25" cy="466.25" r="1.85" fill="#B5112F"/>
<circle cx="133" cy="467.5" r="1.85" fill="#B5112F"/>
<circle cx="129.25" cy="477" r="1.85" fill="#B5112F"/>
<path d="M129 465V472.5M126.2 472.5H131.8M126.2 465H131.8" stroke="#B5112F" stroke-width="1.2" fill="none"/>
<rect x="143.75" y="453.75" width="3.5" height="3.5" fill="#5AA536"/>
<rect x="140" y="464.5" width="3.5" height="3.5" fill="#5AA536"/>
<rect x="147.5" y="464.5" width="3.5" height="3.5" fill="#5AA536"/>
<rect x="143.75" y="466.25" width="3.5" height="3.5" fill="#5AA536"/>
<path d="M145.15 462.5V468.75M142.35 468.75H147.95M142.35 462.5H147.95" stroke="#5AA536" stroke-width="1.2" fill="none"/>
<circle cx="172" cy="408.75" r="1.85" fill="#B5112F"/>
<circle cx="172" cy="423.75" r="1.85" fill="#B5112F"/>
<circle cx="172" cy="431.25" r="1.85" fill="#B5112F"/>
<circle cx="172" cy="443.75" r="1.85" fill="#B5112F"/>
<circle cx="172" cy="463.75" r="1.85" fill="#B5112F"/>
<path d="M172.3 423V444.5M169.5 444.5H175.1M169.5 423H175.1" stroke="#B5112F" stroke-width="1.2" fill="none"/>
<rect x="186.5" y="435.25" width="3.5" height="3.5" fill="#5AA536"/>
<rect x="186.5" y="442.75" width="3.5" height="3.5" fill="#5AA536"/>
<rect x="186.5" y="447.75" width="3.5" height="3.5" fill="#5AA536"/>
<rect x="186.5" y="462" width="3.5" height="3.5" fill="#5AA536"/>
<rect x="186.5" y="467.75" width="3.5" height="3.5" fill="#5AA536"/>
<path d="M188.45 446.25V458.75M185.65 458.75H191.25M185.65 446.25H191.25" stroke="#5AA536" stroke-width="1.2" fill="none"/>
<path d="M74.75 395V482M69.75 482H199.5" stroke="#1a1a1a" stroke-width="1.7" fill="none"/>
<path d="M69.75 398.75H74.75M69.75 426.5H74.75M69.75 454.25H74.75M69.75 482H74.75M93.9 482V486M137.1 482V486M180.4 482V486" stroke="#1a1a1a" stroke-width="1.4" fill="none"/>
<text x="65.45" y="401.8" font-size="9.3" fill="#333" text-anchor="end" textLength="12.73" lengthAdjust="spacingAndGlyphs">1.5</text>
<text x="65.45" y="429.55" font-size="9.3" fill="#333" text-anchor="end" textLength="12.73" lengthAdjust="spacingAndGlyphs">1.0</text>
<text x="65.45" y="457.3" font-size="9.3" fill="#333" text-anchor="end" textLength="12.73" lengthAdjust="spacingAndGlyphs">0.5</text>
<text x="65.45" y="485.05" font-size="9.3" fill="#333" text-anchor="end" textLength="12.73" lengthAdjust="spacingAndGlyphs">0.0</text>
<text x="93.9" y="499.3" font-size="10.9" fill="#333" text-anchor="middle" textLength="29.6" lengthAdjust="spacingAndGlyphs">Spleen</text>
<text x="137.1" y="499.3" font-size="10.9" fill="#333" text-anchor="middle" textLength="20.4" lengthAdjust="spacingAndGlyphs">Liver</text>
<text x="180.4" y="499.3" font-size="10.9" fill="#333" text-anchor="middle" textLength="24.8" lengthAdjust="spacingAndGlyphs">Colon</text>
<text transform="translate(44.4 438.65) rotate(-90)" x="0" y="0" font-size="13" fill="#333" stroke="#333" stroke-width="0.22" text-anchor="middle" textLength="128.7" lengthAdjust="spacingAndGlyphs">Yield of GM-CSF<tspan dy="-4.1" font-size="10.5">+</tspan><tspan dy="4.1"> </tspan>Th1 (X10<tspan dy="-4.4" font-size="9.5">6</tspan><tspan dy="4.4">)</tspan></text>
<rect x="280.6" y="445.8" width="8.9" height="36.2" fill="#CF8B7F" stroke="#C47868" stroke-width="0.8"/>
<rect x="296.75" y="433.9" width="8.9" height="48.1" fill="#BCD6A2" stroke="#AACB8C" stroke-width="0.8"/>
<rect x="323.8" y="456.65" width="8.9" height="25.35" fill="#CF8B7F" stroke="#C47868" stroke-width="0.8"/>
<rect x="339.95" y="437.9" width="8.9" height="44.1" fill="#BCD6A2" stroke="#AACB8C" stroke-width="0.8"/>
<rect x="367.1" y="442.9" width="8.9" height="39.1" fill="#CF8B7F" stroke="#C47868" stroke-width="0.8"/>
<rect x="383.25" y="451.65" width="8.9" height="30.35" fill="#BCD6A2" stroke="#AACB8C" stroke-width="0.8"/>
<circle cx="285.1" cy="432.3" r="1.85" fill="#B5112F"/>
<circle cx="285.1" cy="440" r="1.85" fill="#B5112F"/>
<circle cx="280.8" cy="448.1" r="1.85" fill="#B5112F"/>
<circle cx="288.7" cy="444.8" r="1.85" fill="#B5112F"/>
<circle cx="285.1" cy="456.5" r="1.85" fill="#B5112F"/>
<path d="M285.05 440V448.5M282.25 448.5H287.85M282.25 440H287.85" stroke="#B5112F" stroke-width="1.2" fill="none"/>
<rect x="299.5" y="412" width="3.5" height="3.5" fill="#5AA536"/>
<rect x="295.75" y="430.55" width="3.5" height="3.5" fill="#5AA536"/>
<rect x="303.05" y="430.55" width="3.5" height="3.5" fill="#5AA536"/>
<rect x="299.25" y="428.25" width="3.5" height="3.5" fill="#5AA536"/>
<rect x="299.25" y="451.75" width="3.5" height="3.5" fill="#5AA536"/>
<path d="M301.2 426.5V438.7M298.4 438.7H304M298.4 426.5H304" stroke="#5AA536" stroke-width="1.2" fill="none"/>
<circle cx="328" cy="437.5" r="1.85" fill="#B5112F"/>
<circle cx="328" cy="442.5" r="1.85" fill="#B5112F"/>
<circle cx="328" cy="456.25" r="1.85" fill="#B5112F"/>
<circle cx="328" cy="466.25" r="1.85" fill="#B5112F"/>
<circle cx="328" cy="473" r="1.85" fill="#B5112F"/>
<path d="M328.25 448.75V462.5M325.45 462.5H331.05M325.45 448.75H331.05" stroke="#B5112F" stroke-width="1.2" fill="none"/>
<rect x="342.75" y="418.75" width="3.5" height="3.5" fill="#5AA536"/>
<rect x="338.75" y="437" width="3.5" height="3.5" fill="#5AA536"/>
<rect x="346.5" y="439" width="3.5" height="3.5" fill="#5AA536"/>
<rect x="338.75" y="441.5" width="3.5" height="3.5" fill="#5AA536"/>
<rect x="342.75" y="438.25" width="3.5" height="3.5" fill="#5AA536"/>
<path d="M344.4 432.5V442.5M341.6 442.5H347.2M341.6 432.5H347.2" stroke="#5AA536" stroke-width="1.2" fill="none"/>
<circle cx="371.25" cy="425.5" r="1.85" fill="#B5112F"/>
<circle cx="368" cy="444.5" r="1.85" fill="#B5112F"/>
<circle cx="375.5" cy="443.75" r="1.85" fill="#B5112F"/>
<circle cx="371.25" cy="440" r="1.85" fill="#B5112F"/>
<circle cx="371.25" cy="450" r="1.85" fill="#B5112F"/>
<path d="M371.55 437V448.75M368.75 448.75H374.35M368.75 437H374.35" stroke="#B5112F" stroke-width="1.2" fill="none"/>
<rect x="386.25" y="436.5" width="3.5" height="3.5" fill="#5AA536"/>
<rect x="390" y="444" width="3.5" height="3.5" fill="#5AA536"/>
<rect x="382.5" y="447.5" width="3.5" height="3.5" fill="#5AA536"/>
<rect x="386.25" y="454.5" width="3.5" height="3.5" fill="#5AA536"/>
<rect x="386.25" y="460.25" width="3.5" height="3.5" fill="#5AA536"/>
<path d="M387.7 446.25V456.25M384.9 456.25H390.5M384.9 446.25H390.5" stroke="#5AA536" stroke-width="1.2" fill="none"/>
<path d="M274 395V482M269 482H399.25" stroke="#1a1a1a" stroke-width="1.7" fill="none"/>
<path d="M269 398.75H274M269 426.5H274M269 454.25H274M269 482H274M293.15 482V486M336.35 482V486M379.65 482V486" stroke="#1a1a1a" stroke-width="1.4" fill="none"/>
<text x="264.7" y="401.8" font-size="9.3" fill="#333" text-anchor="end" textLength="12.73" lengthAdjust="spacingAndGlyphs">0.3</text>
<text x="264.7" y="429.55" font-size="9.3" fill="#333" text-anchor="end" textLength="12.73" lengthAdjust="spacingAndGlyphs">0.2</text>
<text x="264.7" y="457.3" font-size="9.3" fill="#333" text-anchor="end" textLength="12.73" lengthAdjust="spacingAndGlyphs">0.1</text>
<text x="264.7" y="485.05" font-size="9.3" fill="#333" text-anchor="end" textLength="12.73" lengthAdjust="spacingAndGlyphs">0.0</text>
<text x="293.15" y="499.3" font-size="10.9" fill="#333" text-anchor="middle" textLength="29.6" lengthAdjust="spacingAndGlyphs">Spleen</text>
<text x="336.35" y="499.3" font-size="10.9" fill="#333" text-anchor="middle" textLength="20.4" lengthAdjust="spacingAndGlyphs">Liver</text>
<text x="379.65" y="499.3" font-size="10.9" fill="#333" text-anchor="middle" textLength="24.8" lengthAdjust="spacingAndGlyphs">Colon</text>
<path d="M328.75 415.5V410.5H343.75V415.5" stroke="#222" stroke-width="1.2" fill="none"/>
<text x="336.45" y="410.8" font-size="8.5" fill="#222" text-anchor="middle" textLength="3.5" lengthAdjust="spacingAndGlyphs">*</text>
<text transform="translate(244 438.65) rotate(-90)" x="0" y="0" font-size="13" fill="#333" stroke="#333" stroke-width="0.22" text-anchor="middle" textLength="128.7" lengthAdjust="spacingAndGlyphs">Yield of GM-CSF<tspan dy="-4.1" font-size="10.5">+</tspan><tspan dy="4.1"> </tspan>Tc1 (X10<tspan dy="-4.4" font-size="9.5">6</tspan><tspan dy="4.4">)</tspan></text>
<rect x="81.35" y="581.2" width="8.9" height="21.4" fill="#977EA6" stroke="#886E99" stroke-width="0.8"/>
<rect x="97.5" y="595.6" width="8.9" height="7" fill="#EFC78D" stroke="#E9BA76" stroke-width="0.8"/>
<rect x="124.55" y="549.15" width="8.9" height="53.45" fill="#977EA6" stroke="#886E99" stroke-width="0.8"/>
<rect x="140.7" y="560.4" width="8.9" height="42.2" fill="#EFC78D" stroke="#E9BA76" stroke-width="0.8"/>
<rect x="167.85" y="552.9" width="8.9" height="49.7" fill="#977EA6" stroke="#886E99" stroke-width="0.8"/>
<rect x="184" y="561.65" width="8.9" height="40.95" fill="#EFC78D" stroke="#E9BA76" stroke-width="0.8"/>
<circle cx="81.8" cy="576.6" r="1.7" fill="#4E1A63"/>
<circle cx="81.8" cy="581.5" r="1.7" fill="#4E1A63"/>
<circle cx="85.7" cy="578.5" r="1.7" fill="#4E1A63"/>
<circle cx="89.4" cy="580.1" r="1.7" fill="#4E1A63"/>
<path d="M85.8 578.2V581.5M83 581.5H88.6M83 578.2H88.6" stroke="#4E1A63" stroke-width="1.2" fill="none"/>
<circle cx="97.4" cy="594.2" r="1.7" fill="#E2921C"/>
<circle cx="100.6" cy="592.1" r="1.7" fill="#E2921C"/>
<circle cx="103.5" cy="593.9" r="1.7" fill="#E2921C"/>
<circle cx="106" cy="593.9" r="1.7" fill="#E2921C"/>
<path d="M101.95 593.5V596M99.15 596H104.75M99.15 593.5H104.75" stroke="#E2921C" stroke-width="1.2" fill="none"/>
<circle cx="128.75" cy="542.5" r="1.7" fill="#4E1A63"/>
<circle cx="125.5" cy="551.25" r="1.7" fill="#4E1A63"/>
<circle cx="132.5" cy="549.25" r="1.7" fill="#4E1A63"/>
<circle cx="128.75" cy="548" r="1.7" fill="#4E1A63"/>
<circle cx="125" cy="552.5" r="1.7" fill="#4E1A63"/>
<path d="M129 545.75V552.5M126.2 552.5H131.8M126.2 545.75H131.8" stroke="#4E1A63" stroke-width="1.2" fill="none"/>
<circle cx="141.25" cy="560" r="1.7" fill="#E2921C"/>
<circle cx="148.75" cy="558.25" r="1.7" fill="#E2921C"/>
<circle cx="145" cy="564.5" r="1.7" fill="#E2921C"/>
<circle cx="145" cy="558" r="1.7" fill="#E2921C"/>
<path d="M145.15 557.5V562.5M142.35 562.5H147.95M142.35 557.5H147.95" stroke="#E2921C" stroke-width="1.2" fill="none"/>
<circle cx="172" cy="547.5" r="1.7" fill="#4E1A63"/>
<circle cx="168.75" cy="552.5" r="1.7" fill="#4E1A63"/>
<circle cx="175.5" cy="553.75" r="1.7" fill="#4E1A63"/>
<circle cx="168.75" cy="558" r="1.7" fill="#4E1A63"/>
<circle cx="172" cy="555" r="1.7" fill="#4E1A63"/>
<path d="M172.3 550V556.25M169.5 556.25H175.1M169.5 550H175.1" stroke="#4E1A63" stroke-width="1.2" fill="none"/>
<circle cx="184.25" cy="562" r="1.7" fill="#E2921C"/>
<circle cx="188" cy="559.5" r="1.7" fill="#E2921C"/>
<circle cx="191.75" cy="562.5" r="1.7" fill="#E2921C"/>
<circle cx="184.25" cy="565" r="1.7" fill="#E2921C"/>
<circle cx="188" cy="563.75" r="1.7" fill="#E2921C"/>
<path d="M188.45 559.5V563M185.65 563H191.25M185.65 559.5H191.25" stroke="#E2921C" stroke-width="1.2" fill="none"/>
<path d="M74.75 515.75V602.6M69.75 602.6H199.5" stroke="#1a1a1a" stroke-width="1.7" fill="none"/>
<path d="M69.75 519.5H74.75M69.75 540.27H74.75M69.75 561.05H74.75M69.75 581.83H74.75M69.75 602.6H74.75M93.9 602.6V606.6M137.1 602.6V606.6M180.4 602.6V606.6" stroke="#1a1a1a" stroke-width="1.4" fill="none"/>
<text x="65.45" y="522.55" font-size="9.3" fill="#333" text-anchor="end" textLength="10.19" lengthAdjust="spacingAndGlyphs">80</text>
<text x="65.45" y="543.32" font-size="9.3" fill="#333" text-anchor="end" textLength="10.19" lengthAdjust="spacingAndGlyphs">60</text>
<text x="65.45" y="564.1" font-size="9.3" fill="#333" text-anchor="end" textLength="10.19" lengthAdjust="spacingAndGlyphs">40</text>
<text x="65.45" y="584.88" font-size="9.3" fill="#333" text-anchor="end" textLength="10.19" lengthAdjust="spacingAndGlyphs">20</text>
<text x="65.45" y="605.65" font-size="9.3" fill="#333" text-anchor="end" textLength="5.09" lengthAdjust="spacingAndGlyphs">0</text>
<text x="93.9" y="619.9" font-size="10.9" fill="#333" text-anchor="middle" textLength="29.6" lengthAdjust="spacingAndGlyphs">Spleen</text>
<text x="137.1" y="619.9" font-size="10.9" fill="#333" text-anchor="middle" textLength="20.4" lengthAdjust="spacingAndGlyphs">Liver</text>
<text x="180.4" y="619.9" font-size="10.9" fill="#333" text-anchor="middle" textLength="24.8" lengthAdjust="spacingAndGlyphs">Colon</text>
<path d="M80.5 571.25H105" stroke="#222" stroke-width="1.3" fill="none"/>
<text x="92.95" y="571.55" font-size="8.5" fill="#222" text-anchor="middle" textLength="14" lengthAdjust="spacingAndGlyphs">****</text>
<path d="M130 533.75H147" stroke="#222" stroke-width="1.3" fill="none"/>
<text x="138.7" y="534.05" font-size="8.5" fill="#222" text-anchor="middle" textLength="7" lengthAdjust="spacingAndGlyphs">**</text>
<path d="M172 540.5H190.5" stroke="#222" stroke-width="1.3" fill="none"/>
<text x="181.45" y="540.8" font-size="8.5" fill="#222" text-anchor="middle" textLength="3.5" lengthAdjust="spacingAndGlyphs">*</text>
<text transform="translate(47 559.95) rotate(-90)" x="0" y="0" font-size="13" fill="#333" stroke="#333" stroke-width="0.22" text-anchor="middle" textLength="66.9" lengthAdjust="spacingAndGlyphs">%GM-CSF<tspan dy="-4.1" font-size="10.5">+</tspan><tspan dy="4.1"> </tspan>Th1</text>
<rect x="280.6" y="584.9" width="8.9" height="17.7" fill="#977EA6" stroke="#886E99" stroke-width="0.8"/>
<rect x="296.75" y="594.9" width="8.9" height="7.7" fill="#EFC78D" stroke="#E9BA76" stroke-width="0.8"/>
<rect x="323.8" y="548.65" width="8.9" height="53.95" fill="#977EA6" stroke="#886E99" stroke-width="0.8"/>
<rect x="339.95" y="566.65" width="8.9" height="35.95" fill="#EFC78D" stroke="#E9BA76" stroke-width="0.8"/>
<rect x="367.1" y="590.9" width="8.9" height="11.7" fill="#977EA6" stroke="#886E99" stroke-width="0.8"/>
<rect x="383.25" y="592.9" width="8.9" height="9.7" fill="#EFC78D" stroke="#E9BA76" stroke-width="0.8"/>
<circle cx="281.25" cy="584.5" r="1.7" fill="#4E1A63"/>
<circle cx="288.75" cy="584.5" r="1.7" fill="#4E1A63"/>
<circle cx="285" cy="583.75" r="1.7" fill="#4E1A63"/>
<circle cx="285" cy="588.75" r="1.7" fill="#4E1A63"/>
<path d="M285.05 583.5V587M282.25 587H287.85M282.25 583.5H287.85" stroke="#4E1A63" stroke-width="1.2" fill="none"/>
<circle cx="301.25" cy="587" r="1.7" fill="#E2921C"/>
<circle cx="297.5" cy="593" r="1.7" fill="#E2921C"/>
<circle cx="305" cy="593" r="1.7" fill="#E2921C"/>
<circle cx="301.25" cy="598.75" r="1.7" fill="#E2921C"/>
<circle cx="301.25" cy="595" r="1.7" fill="#E2921C"/>
<path d="M301.2 590.5V598M298.4 598H304M298.4 590.5H304" stroke="#E2921C" stroke-width="1.2" fill="none"/>
<circle cx="328" cy="528.25" r="1.7" fill="#4E1A63"/>
<circle cx="324.5" cy="552" r="1.7" fill="#4E1A63"/>
<circle cx="332" cy="550.75" r="1.7" fill="#4E1A63"/>
<circle cx="328" cy="557.5" r="1.7" fill="#4E1A63"/>
<path d="M328.25 540.5V555.5M325.45 555.5H331.05M325.45 540.5H331.05" stroke="#4E1A63" stroke-width="1.2" fill="none"/>
<circle cx="341.25" cy="564.5" r="1.7" fill="#E2921C"/>
<circle cx="348" cy="561.25" r="1.7" fill="#E2921C"/>
<circle cx="344.5" cy="561.25" r="1.7" fill="#E2921C"/>
<circle cx="345" cy="573" r="1.7" fill="#E2921C"/>
<path d="M344.4 562.5V570M341.6 570H347.2M341.6 562.5H347.2" stroke="#E2921C" stroke-width="1.2" fill="none"/>
<circle cx="371.25" cy="579.5" r="1.7" fill="#4E1A63"/>
<circle cx="371.25" cy="588.75" r="1.7" fill="#4E1A63"/>
<circle cx="368" cy="595" r="1.7" fill="#4E1A63"/>
<circle cx="375.5" cy="595" r="1.7" fill="#4E1A63"/>
<circle cx="371.25" cy="593.75" r="1.7" fill="#4E1A63"/>
<path d="M371.55 585.75V595M368.75 595H374.35M368.75 585.75H374.35" stroke="#4E1A63" stroke-width="1.2" fill="none"/>
<circle cx="384.25" cy="588" r="1.7" fill="#E2921C"/>
<circle cx="391.75" cy="585" r="1.7" fill="#E2921C"/>
<circle cx="384.25" cy="596.25" r="1.7" fill="#E2921C"/>
<circle cx="391.75" cy="594.5" r="1.7" fill="#E2921C"/>
<circle cx="388" cy="593.75" r="1.7" fill="#E2921C"/>
<path d="M387.7 588V596.25M384.9 596.25H390.5M384.9 588H390.5" stroke="#E2921C" stroke-width="1.2" fill="none"/>
<path d="M274 515.75V602.6M269 602.6H399.25" stroke="#1a1a1a" stroke-width="1.7" fill="none"/>
<path d="M269 519.5H274M269 540.27H274M269 561.05H274M269 581.83H274M269 602.6H274M293.15 602.6V606.6M336.35 602.6V606.6M379.65 602.6V606.6" stroke="#1a1a1a" stroke-width="1.4" fill="none"/>
<text x="264.7" y="522.55" font-size="9.3" fill="#333" text-anchor="end" textLength="10.19" lengthAdjust="spacingAndGlyphs">40</text>
<text x="264.7" y="543.32" font-size="9.3" fill="#333" text-anchor="end" textLength="10.19" lengthAdjust="spacingAndGlyphs">30</text>
<text x="264.7" y="564.1" font-size="9.3" fill="#333" text-anchor="end" textLength="10.19" lengthAdjust="spacingAndGlyphs">20</text>
<text x="264.7" y="584.88" font-size="9.3" fill="#333" text-anchor="end" textLength="10.19" lengthAdjust="spacingAndGlyphs">10</text>
<text x="264.7" y="605.65" font-size="9.3" fill="#333" text-anchor="end" textLength="5.09" lengthAdjust="spacingAndGlyphs">0</text>
<text x="293.15" y="619.9" font-size="10.9" fill="#333" text-anchor="middle" textLength="29.6" lengthAdjust="spacingAndGlyphs">Spleen</text>
<text x="336.35" y="619.9" font-size="10.9" fill="#333" text-anchor="middle" textLength="20.4" lengthAdjust="spacingAndGlyphs">Liver</text>
<text x="379.65" y="619.9" font-size="10.9" fill="#333" text-anchor="middle" textLength="24.8" lengthAdjust="spacingAndGlyphs">Colon</text>
<path d="M328.25 519.25H346.25" stroke="#222" stroke-width="1.3" fill="none"/>
<text x="337.45" y="519.55" font-size="8.5" fill="#222" text-anchor="middle" textLength="3.5" lengthAdjust="spacingAndGlyphs">*</text>
<text transform="translate(246.6 560.2) rotate(-90)" x="0" y="0" font-size="13" fill="#333" stroke="#333" stroke-width="0.22" text-anchor="middle" textLength="65.6" lengthAdjust="spacingAndGlyphs">%GM-CSF<tspan dy="-4.1" font-size="10.5">+</tspan><tspan dy="4.1"> </tspan>Tc1</text>
<rect x="81.35" y="731.65" width="8.9" height="2.85" fill="#977EA6" stroke="#886E99" stroke-width="0.8"/>
<rect x="97.5" y="733.4" width="8.9" height="1.1" fill="#EFC78D" stroke="#E9BA76" stroke-width="0.8"/>
<rect x="124.55" y="687.9" width="8.9" height="46.6" fill="#977EA6" stroke="#886E99" stroke-width="0.8"/>
<rect x="140.7" y="712.9" width="8.9" height="21.6" fill="#EFC78D" stroke="#E9BA76" stroke-width="0.8"/>
<rect x="167.85" y="713.4" width="8.9" height="21.1" fill="#977EA6" stroke="#886E99" stroke-width="0.8"/>
<rect x="184" y="721.65" width="8.9" height="12.85" fill="#EFC78D" stroke="#E9BA76" stroke-width="0.8"/>
<circle cx="81.25" cy="727.5" r="1.7" fill="#4E1A63"/>
<circle cx="85.5" cy="731.25" r="1.7" fill="#4E1A63"/>
<circle cx="89.25" cy="731.25" r="1.7" fill="#4E1A63"/>
<circle cx="81.25" cy="733" r="1.7" fill="#4E1A63"/>
<path d="M85.8 729.5V733M83 733H88.6M83 729.5H88.6" stroke="#4E1A63" stroke-width="1.2" fill="none"/>
<circle cx="98" cy="733" r="1.7" fill="#E2921C"/>
<circle cx="101.25" cy="732" r="1.7" fill="#E2921C"/>
<circle cx="105" cy="733" r="1.7" fill="#E2921C"/>
<circle cx="128.75" cy="663.75" r="1.7" fill="#4E1A63"/>
<circle cx="128.75" cy="680" r="1.7" fill="#4E1A63"/>
<circle cx="128.75" cy="698.75" r="1.7" fill="#4E1A63"/>
<circle cx="128.75" cy="703.75" r="1.7" fill="#4E1A63"/>
<path d="M129 677.5V697.5M126.2 697.5H131.8M126.2 677.5H131.8" stroke="#4E1A63" stroke-width="1.2" fill="none"/>
<circle cx="145" cy="704.5" r="1.7" fill="#E2921C"/>
<circle cx="141.25" cy="713" r="1.7" fill="#E2921C"/>
<circle cx="148.75" cy="713" r="1.7" fill="#E2921C"/>
<circle cx="141.25" cy="716.25" r="1.7" fill="#E2921C"/>
<circle cx="145" cy="711.25" r="1.7" fill="#E2921C"/>
<path d="M145.15 708.75V715M142.35 715H147.95M142.35 708.75H147.95" stroke="#E2921C" stroke-width="1.2" fill="none"/>
<circle cx="172" cy="706.25" r="1.7" fill="#4E1A63"/>
<circle cx="168.75" cy="715.5" r="1.7" fill="#4E1A63"/>
<circle cx="175.5" cy="714.5" r="1.7" fill="#4E1A63"/>
<circle cx="172" cy="712" r="1.7" fill="#4E1A63"/>
<path d="M172.3 710V716.25M169.5 716.25H175.1M169.5 710H175.1" stroke="#4E1A63" stroke-width="1.2" fill="none"/>
<circle cx="184.25" cy="718.75" r="1.7" fill="#E2921C"/>
<circle cx="188" cy="721.25" r="1.7" fill="#E2921C"/>
<circle cx="191.75" cy="722" r="1.7" fill="#E2921C"/>
<circle cx="188" cy="726.25" r="1.7" fill="#E2921C"/>
<circle cx="184.25" cy="722" r="1.7" fill="#E2921C"/>
<path d="M188.45 718.75V723.75M185.65 723.75H191.25M185.65 718.75H191.25" stroke="#E2921C" stroke-width="1.2" fill="none"/>
<path d="M74.75 647.5V734.5M69.75 734.5H199.5" stroke="#1a1a1a" stroke-width="1.7" fill="none"/>
<path d="M69.75 650.75H74.75M69.75 671.69H74.75M69.75 692.62H74.75M69.75 713.56H74.75M69.75 734.5H74.75M93.9 734.5V738.5M137.1 734.5V738.5M180.4 734.5V738.5" stroke="#1a1a1a" stroke-width="1.4" fill="none"/>
<text x="65.45" y="653.8" font-size="9.3" fill="#333" text-anchor="end" textLength="12.73" lengthAdjust="spacingAndGlyphs">2.0</text>
<text x="65.45" y="674.74" font-size="9.3" fill="#333" text-anchor="end" textLength="12.73" lengthAdjust="spacingAndGlyphs">1.5</text>
<text x="65.45" y="695.67" font-size="9.3" fill="#333" text-anchor="end" textLength="12.73" lengthAdjust="spacingAndGlyphs">1.0</text>
<text x="65.45" y="716.61" font-size="9.3" fill="#333" text-anchor="end" textLength="12.73" lengthAdjust="spacingAndGlyphs">0.5</text>
<text x="65.45" y="737.55" font-size="9.3" fill="#333" text-anchor="end" textLength="12.73" lengthAdjust="spacingAndGlyphs">0.0</text>
<text x="93.9" y="751.8" font-size="10.9" fill="#333" text-anchor="middle" textLength="29.6" lengthAdjust="spacingAndGlyphs">Spleen</text>
<text x="137.1" y="751.8" font-size="10.9" fill="#333" text-anchor="middle" textLength="20.4" lengthAdjust="spacingAndGlyphs">Liver</text>
<text x="180.4" y="751.8" font-size="10.9" fill="#333" text-anchor="middle" textLength="24.8" lengthAdjust="spacingAndGlyphs">Colon</text>
<path d="M125 655.5H143.25" stroke="#222" stroke-width="1.3" fill="none"/>
<text x="134.32" y="655.8" font-size="8.5" fill="#222" text-anchor="middle" textLength="3.5" lengthAdjust="spacingAndGlyphs">*</text>
<path d="M170 699.25H188.75" stroke="#222" stroke-width="1.3" fill="none"/>
<text x="179.57" y="699.55" font-size="8.5" fill="#222" text-anchor="middle" textLength="3.5" lengthAdjust="spacingAndGlyphs">*</text>
<text transform="translate(43.8 690.75) rotate(-90)" x="0" y="0" font-size="13" fill="#333" stroke="#333" stroke-width="0.22" text-anchor="middle" textLength="128.9" lengthAdjust="spacingAndGlyphs">Yield of GM-CSF<tspan dy="-4.1" font-size="10.5">+</tspan><tspan dy="4.1"> </tspan>Th1 (X10<tspan dy="-4.4" font-size="9.5">6</tspan><tspan dy="4.4">)</tspan></text>
<rect x="280.6" y="732.4" width="8.9" height="2.1" fill="#977EA6" stroke="#886E99" stroke-width="0.8"/>
<rect x="296.75" y="732.9" width="8.9" height="1.6" fill="#EFC78D" stroke="#E9BA76" stroke-width="0.8"/>
<rect x="323.8" y="691.65" width="8.9" height="42.85" fill="#977EA6" stroke="#886E99" stroke-width="0.8"/>
<rect x="339.95" y="712.9" width="8.9" height="21.6" fill="#EFC78D" stroke="#E9BA76" stroke-width="0.8"/>
<rect x="367.1" y="732.4" width="8.9" height="2.1" fill="#977EA6" stroke="#886E99" stroke-width="0.8"/>
<rect x="383.25" y="733.4" width="8.9" height="1.1" fill="#EFC78D" stroke="#E9BA76" stroke-width="0.8"/>
<circle cx="280.75" cy="728.75" r="1.7" fill="#4E1A63"/>
<circle cx="284.5" cy="732" r="1.7" fill="#4E1A63"/>
<circle cx="288.75" cy="732" r="1.7" fill="#4E1A63"/>
<circle cx="280.75" cy="733.5" r="1.7" fill="#4E1A63"/>
<circle cx="297.5" cy="729.5" r="1.7" fill="#E2921C"/>
<circle cx="301.25" cy="731.25" r="1.7" fill="#E2921C"/>
<circle cx="305" cy="733" r="1.7" fill="#E2921C"/>
<circle cx="297.5" cy="733" r="1.7" fill="#E2921C"/>
<circle cx="328" cy="658.25" r="1.7" fill="#4E1A63"/>
<circle cx="328" cy="687" r="1.7" fill="#4E1A63"/>
<circle cx="328" cy="700" r="1.7" fill="#4E1A63"/>
<circle cx="328" cy="714.25" r="1.7" fill="#4E1A63"/>
<path d="M328.25 678.25V702.5M325.45 702.5H331.05M325.45 678.25H331.05" stroke="#4E1A63" stroke-width="1.2" fill="none"/>
<circle cx="344.5" cy="699.25" r="1.7" fill="#E2921C"/>
<circle cx="344.5" cy="711.25" r="1.7" fill="#E2921C"/>
<circle cx="344.5" cy="715.75" r="1.7" fill="#E2921C"/>
<circle cx="344.5" cy="720.5" r="1.7" fill="#E2921C"/>
<path d="M344.4 707V716.25M341.6 716.25H347.2M341.6 707H347.2" stroke="#E2921C" stroke-width="1.2" fill="none"/>
<circle cx="368" cy="732" r="1.7" fill="#4E1A63"/>
<circle cx="371.25" cy="730" r="1.7" fill="#4E1A63"/>
<circle cx="375.5" cy="730" r="1.7" fill="#4E1A63"/>
<circle cx="368" cy="733" r="1.7" fill="#4E1A63"/>
<circle cx="384.25" cy="733" r="1.7" fill="#E2921C"/>
<circle cx="388" cy="732" r="1.7" fill="#E2921C"/>
<circle cx="391.75" cy="733" r="1.7" fill="#E2921C"/>
<path d="M274 647.5V734.5M269 734.5H399.25" stroke="#1a1a1a" stroke-width="1.7" fill="none"/>
<path d="M269 650.75H274M269 671.69H274M269 692.62H274M269 713.56H274M269 734.5H274M293.15 734.5V738.5M336.35 734.5V738.5M379.65 734.5V738.5" stroke="#1a1a1a" stroke-width="1.4" fill="none"/>
<text x="264.7" y="653.8" font-size="9.3" fill="#333" text-anchor="end" textLength="12.73" lengthAdjust="spacingAndGlyphs">0.8</text>
<text x="264.7" y="674.74" font-size="9.3" fill="#333" text-anchor="end" textLength="12.73" lengthAdjust="spacingAndGlyphs">0.6</text>
<text x="264.7" y="695.67" font-size="9.3" fill="#333" text-anchor="end" textLength="12.73" lengthAdjust="spacingAndGlyphs">0.4</text>
<text x="264.7" y="716.61" font-size="9.3" fill="#333" text-anchor="end" textLength="12.73" lengthAdjust="spacingAndGlyphs">0.2</text>
<text x="264.7" y="737.55" font-size="9.3" fill="#333" text-anchor="end" textLength="12.73" lengthAdjust="spacingAndGlyphs">0.0</text>
<text x="293.15" y="751.8" font-size="10.9" fill="#333" text-anchor="middle" textLength="29.6" lengthAdjust="spacingAndGlyphs">Spleen</text>
<text x="336.35" y="751.8" font-size="10.9" fill="#333" text-anchor="middle" textLength="20.4" lengthAdjust="spacingAndGlyphs">Liver</text>
<text x="379.65" y="751.8" font-size="10.9" fill="#333" text-anchor="middle" textLength="24.8" lengthAdjust="spacingAndGlyphs">Colon</text>
<path d="M327 650.75H351.75" stroke="#222" stroke-width="1.3" fill="none"/>
<text x="339.57" y="651.05" font-size="8.5" fill="#222" text-anchor="middle" textLength="3.5" lengthAdjust="spacingAndGlyphs">*</text>
<text transform="translate(244 690.75) rotate(-90)" x="0" y="0" font-size="13" fill="#333" stroke="#333" stroke-width="0.22" text-anchor="middle" textLength="128.9" lengthAdjust="spacingAndGlyphs">Yield of GM-CSF<tspan dy="-4.1" font-size="10.5">+</tspan><tspan dy="4.1"> </tspan>Tc1 (X10<tspan dy="-4.4" font-size="9.5">6</tspan><tspan dy="4.4">)</tspan></text>
<rect x="81.35" y="839.15" width="8.9" height="14.6" fill="#9199C0" stroke="#8089B6" stroke-width="0.8"/>
<rect x="97.5" y="831.65" width="8.9" height="22.1" fill="#EFC78D" stroke="#E9BA76" stroke-width="0.8"/>
<rect x="124.55" y="819.15" width="8.9" height="34.6" fill="#9199C0" stroke="#8089B6" stroke-width="0.8"/>
<rect x="140.7" y="806.65" width="8.9" height="47.1" fill="#EFC78D" stroke="#E9BA76" stroke-width="0.8"/>
<rect x="167.85" y="804.9" width="8.9" height="48.85" fill="#9199C0" stroke="#8089B6" stroke-width="0.8"/>
<rect x="184" y="794.9" width="8.9" height="58.85" fill="#EFC78D" stroke="#E9BA76" stroke-width="0.8"/>
<circle cx="81.75" cy="836.25" r="1.7" fill="#1F3F82"/>
<circle cx="85.75" cy="838.75" r="1.7" fill="#1F3F82"/>
<circle cx="89.25" cy="838" r="1.7" fill="#1F3F82"/>
<circle cx="85.75" cy="842" r="1.7" fill="#1F3F82"/>
<circle cx="83.75" cy="837.5" r="1.7" fill="#1F3F82"/>
<path d="M85.8 836.5V841M83 841H88.6M83 836.5H88.6" stroke="#1F3F82" stroke-width="1.2" fill="none"/>
<rect x="96.25" y="827.75" width="3.5" height="3.5" fill="#E2921C"/>
<rect x="104" y="825.75" width="3.5" height="3.5" fill="#E2921C"/>
<rect x="100.25" y="830.75" width="3.5" height="3.5" fill="#E2921C"/>
<rect x="96.25" y="832.75" width="3.5" height="3.5" fill="#E2921C"/>
<rect x="100.25" y="837" width="3.5" height="3.5" fill="#E2921C"/>
<path d="M101.95 828V834.5M99.15 834.5H104.75M99.15 828H104.75" stroke="#E2921C" stroke-width="1.2" fill="none"/>
<circle cx="125.5" cy="815.5" r="1.7" fill="#1F3F82"/>
<circle cx="132.5" cy="814.5" r="1.7" fill="#1F3F82"/>
<circle cx="128.75" cy="818.75" r="1.7" fill="#1F3F82"/>
<circle cx="125.5" cy="823.75" r="1.7" fill="#1F3F82"/>
<circle cx="132.5" cy="822" r="1.7" fill="#1F3F82"/>
<path d="M129 815.5V822.5M126.2 822.5H131.8M126.2 815.5H131.8" stroke="#1F3F82" stroke-width="1.2" fill="none"/>
<rect x="143.25" y="793.25" width="3.5" height="3.5" fill="#E2921C"/>
<rect x="143.25" y="800.75" width="3.5" height="3.5" fill="#E2921C"/>
<rect x="140.75" y="805.25" width="3.5" height="3.5" fill="#E2921C"/>
<rect x="143.25" y="812" width="3.5" height="3.5" fill="#E2921C"/>
<rect x="145.75" y="807" width="3.5" height="3.5" fill="#E2921C"/>
<path d="M145.15 801.25V811.25M142.35 811.25H147.95M142.35 801.25H147.95" stroke="#E2921C" stroke-width="1.2" fill="none"/>
<circle cx="172" cy="797.5" r="1.7" fill="#1F3F82"/>
<circle cx="168.75" cy="802.5" r="1.7" fill="#1F3F82"/>
<circle cx="175.5" cy="802" r="1.7" fill="#1F3F82"/>
<circle cx="168.75" cy="808" r="1.7" fill="#1F3F82"/>
<circle cx="175.5" cy="806.25" r="1.7" fill="#1F3F82"/>
<path d="M172.3 801.25V807.5M169.5 807.5H175.1M169.5 801.25H175.1" stroke="#1F3F82" stroke-width="1.2" fill="none"/>
<rect x="182.75" y="789.5" width="3.5" height="3.5" fill="#E2921C"/>
<rect x="190.25" y="787.5" width="3.5" height="3.5" fill="#E2921C"/>
<rect x="186.5" y="792.75" width="3.5" height="3.5" fill="#E2921C"/>
<rect x="182.75" y="794.5" width="3.5" height="3.5" fill="#E2921C"/>
<rect x="186.5" y="797.75" width="3.5" height="3.5" fill="#E2921C"/>
<rect x="190.25" y="793.25" width="3.5" height="3.5" fill="#E2921C"/>
<path d="M188.45 792.5V797.5M185.65 797.5H191.25M185.65 792.5H191.25" stroke="#E2921C" stroke-width="1.2" fill="none"/>
<path d="M74.75 767.5V853.75M69.75 853.75H199.5" stroke="#1a1a1a" stroke-width="1.7" fill="none"/>
<path d="M69.75 771.25H74.75M69.75 791.88H74.75M69.75 812.5H74.75M69.75 833.12H74.75M69.75 853.75H74.75M93.9 853.75V857.75M137.1 853.75V857.75M180.4 853.75V857.75" stroke="#1a1a1a" stroke-width="1.4" fill="none"/>
<text x="65.45" y="774.3" font-size="9.3" fill="#333" text-anchor="end" textLength="10.19" lengthAdjust="spacingAndGlyphs">80</text>
<text x="65.45" y="794.92" font-size="9.3" fill="#333" text-anchor="end" textLength="10.19" lengthAdjust="spacingAndGlyphs">60</text>
<text x="65.45" y="815.55" font-size="9.3" fill="#333" text-anchor="end" textLength="10.19" lengthAdjust="spacingAndGlyphs">40</text>
<text x="65.45" y="836.17" font-size="9.3" fill="#333" text-anchor="end" textLength="10.19" lengthAdjust="spacingAndGlyphs">20</text>
<text x="65.45" y="856.8" font-size="9.3" fill="#333" text-anchor="end" textLength="5.09" lengthAdjust="spacingAndGlyphs">0</text>
<text x="93.9" y="871.05" font-size="10.9" fill="#333" text-anchor="middle" textLength="29.6" lengthAdjust="spacingAndGlyphs">Spleen</text>
<text x="137.1" y="871.05" font-size="10.9" fill="#333" text-anchor="middle" textLength="20.4" lengthAdjust="spacingAndGlyphs">Liver</text>
<text x="180.4" y="871.05" font-size="10.9" fill="#333" text-anchor="middle" textLength="24.8" lengthAdjust="spacingAndGlyphs">Colon</text>
<path d="M87 819.25H100.75" stroke="#222" stroke-width="1.3" fill="none"/>
<text x="94.08" y="819.55" font-size="8.5" fill="#222" text-anchor="middle" textLength="3.5" lengthAdjust="spacingAndGlyphs">*</text>
<path d="M125.5 788H145" stroke="#222" stroke-width="1.3" fill="none"/>
<text x="135.45" y="788.3" font-size="8.5" fill="#222" text-anchor="middle" textLength="7" lengthAdjust="spacingAndGlyphs">**</text>
<path d="M172.5 781.25H190.5" stroke="#222" stroke-width="1.3" fill="none"/>
<text x="181.7" y="781.55" font-size="8.5" fill="#222" text-anchor="middle" textLength="7" lengthAdjust="spacingAndGlyphs">**</text>
<text transform="translate(47 811.15) rotate(-90)" x="0" y="0" font-size="13" fill="#333" stroke="#333" stroke-width="0.22" text-anchor="middle" textLength="65.7" lengthAdjust="spacingAndGlyphs">%GM-CSF<tspan dy="-4.1" font-size="10.5">+</tspan><tspan dy="4.1"> </tspan>Th1</text>
<rect x="280.6" y="836.65" width="8.9" height="17.1" fill="#9199C0" stroke="#8089B6" stroke-width="0.8"/>
<rect x="296.75" y="810.4" width="8.9" height="43.35" fill="#EFC78D" stroke="#E9BA76" stroke-width="0.8"/>
<rect x="323.8" y="815.9" width="8.9" height="37.85" fill="#9199C0" stroke="#8089B6" stroke-width="0.8"/>
<rect x="339.95" y="789.9" width="8.9" height="63.85" fill="#EFC78D" stroke="#E9BA76" stroke-width="0.8"/>
<rect x="367.1" y="844.15" width="8.9" height="9.6" fill="#9199C0" stroke="#8089B6" stroke-width="0.8"/>
<rect x="383.25" y="821.65" width="8.9" height="32.1" fill="#EFC78D" stroke="#E9BA76" stroke-width="0.8"/>
<circle cx="285" cy="830.75" r="1.7" fill="#1F3F82"/>
<circle cx="281.25" cy="836.25" r="1.7" fill="#1F3F82"/>
<circle cx="288.75" cy="836.25" r="1.7" fill="#1F3F82"/>
<circle cx="284.5" cy="840.5" r="1.7" fill="#1F3F82"/>
<circle cx="285" cy="837.5" r="1.7" fill="#1F3F82"/>
<path d="M285.05 834.5V838.75M282.25 838.75H287.85M282.25 834.5H287.85" stroke="#1F3F82" stroke-width="1.2" fill="none"/>
<rect x="299.5" y="800.25" width="3.5" height="3.5" fill="#E2921C"/>
<rect x="295.75" y="809" width="3.5" height="3.5" fill="#E2921C"/>
<rect x="303.25" y="809" width="3.5" height="3.5" fill="#E2921C"/>
<rect x="299.5" y="807" width="3.5" height="3.5" fill="#E2921C"/>
<rect x="297.75" y="810.25" width="3.5" height="3.5" fill="#E2921C"/>
<path d="M301.2 808V812M298.4 812H304M298.4 808H304" stroke="#E2921C" stroke-width="1.2" fill="none"/>
<circle cx="328" cy="806.25" r="1.7" fill="#1F3F82"/>
<circle cx="324.5" cy="815.5" r="1.7" fill="#1F3F82"/>
<circle cx="332" cy="815.5" r="1.7" fill="#1F3F82"/>
<circle cx="328" cy="821.25" r="1.7" fill="#1F3F82"/>
<circle cx="328" cy="817.5" r="1.7" fill="#1F3F82"/>
<path d="M328.25 812.5V818M325.45 818H331.05M325.45 812.5H331.05" stroke="#1F3F82" stroke-width="1.2" fill="none"/>
<rect x="338.75" y="780.75" width="3.5" height="3.5" fill="#E2921C"/>
<rect x="346.25" y="778.75" width="3.5" height="3.5" fill="#E2921C"/>
<rect x="342.75" y="785.25" width="3.5" height="3.5" fill="#E2921C"/>
<rect x="338.75" y="795.25" width="3.5" height="3.5" fill="#E2921C"/>
<rect x="346.25" y="794.5" width="3.5" height="3.5" fill="#E2921C"/>
<path d="M344.4 785V794.5M341.6 794.5H347.2M341.6 785H347.2" stroke="#E2921C" stroke-width="1.2" fill="none"/>
<circle cx="368" cy="838.75" r="1.7" fill="#1F3F82"/>
<circle cx="371.25" cy="840.5" r="1.7" fill="#1F3F82"/>
<circle cx="375" cy="842" r="1.7" fill="#1F3F82"/>
<circle cx="368" cy="843.75" r="1.7" fill="#1F3F82"/>
<circle cx="371.25" cy="848" r="1.7" fill="#1F3F82"/>
<path d="M371.55 841.25V846.25M368.75 846.25H374.35M368.75 841.25H374.35" stroke="#1F3F82" stroke-width="1.2" fill="none"/>
<rect x="385.75" y="807.75" width="3.5" height="3.5" fill="#E2921C"/>
<rect x="385.75" y="811.25" width="3.5" height="3.5" fill="#E2921C"/>
<rect x="385.75" y="820.75" width="3.5" height="3.5" fill="#E2921C"/>
<rect x="385.75" y="830.25" width="3.5" height="3.5" fill="#E2921C"/>
<rect x="384.5" y="822.75" width="3.5" height="3.5" fill="#E2921C"/>
<path d="M387.7 815.5V826.25M384.9 826.25H390.5M384.9 815.5H390.5" stroke="#E2921C" stroke-width="1.2" fill="none"/>
<path d="M274 767.5V853.75M269 853.75H399.25" stroke="#1a1a1a" stroke-width="1.7" fill="none"/>
<path d="M269 770.75H274M269 798.42H274M269 826.08H274M269 853.75H274M293.15 853.75V857.75M336.35 853.75V857.75M379.65 853.75V857.75" stroke="#1a1a1a" stroke-width="1.4" fill="none"/>
<text x="264.7" y="773.8" font-size="9.3" fill="#333" text-anchor="end" textLength="10.19" lengthAdjust="spacingAndGlyphs">30</text>
<text x="264.7" y="801.47" font-size="9.3" fill="#333" text-anchor="end" textLength="10.19" lengthAdjust="spacingAndGlyphs">20</text>
<text x="264.7" y="829.13" font-size="9.3" fill="#333" text-anchor="end" textLength="10.19" lengthAdjust="spacingAndGlyphs">10</text>
<text x="264.7" y="856.8" font-size="9.3" fill="#333" text-anchor="end" textLength="5.09" lengthAdjust="spacingAndGlyphs">0</text>
<text x="293.15" y="871.05" font-size="10.9" fill="#333" text-anchor="middle" textLength="29.6" lengthAdjust="spacingAndGlyphs">Spleen</text>
<text x="336.35" y="871.05" font-size="10.9" fill="#333" text-anchor="middle" textLength="20.4" lengthAdjust="spacingAndGlyphs">Liver</text>
<text x="379.65" y="871.05" font-size="10.9" fill="#333" text-anchor="middle" textLength="24.8" lengthAdjust="spacingAndGlyphs">Colon</text>
<path d="M282 792.5H299.5" stroke="#222" stroke-width="1.3" fill="none"/>
<text x="290.95" y="792.8" font-size="8.5" fill="#222" text-anchor="middle" textLength="14" lengthAdjust="spacingAndGlyphs">****</text>
<path d="M319.25 773.75H344.5" stroke="#222" stroke-width="1.3" fill="none"/>
<text x="332.07" y="774.05" font-size="8.5" fill="#222" text-anchor="middle" textLength="10.5" lengthAdjust="spacingAndGlyphs">***</text>
<path d="M364.5 800.75H386.75" stroke="#222" stroke-width="1.3" fill="none"/>
<text x="375.82" y="801.05" font-size="8.5" fill="#222" text-anchor="middle" textLength="7" lengthAdjust="spacingAndGlyphs">**</text>
<text transform="translate(246.5 811.3) rotate(-90)" x="0" y="0" font-size="13" fill="#333" stroke="#333" stroke-width="0.22" text-anchor="middle" textLength="65" lengthAdjust="spacingAndGlyphs">%GM-CSF<tspan dy="-4.1" font-size="10.5">+</tspan><tspan dy="4.1"> </tspan>Tc1</text>
<rect x="81.35" y="973.4" width="8.9" height="12.1" fill="#9199C0" stroke="#8089B6" stroke-width="0.8"/>
<rect x="97.5" y="960.9" width="8.9" height="24.6" fill="#EFC78D" stroke="#E9BA76" stroke-width="0.8"/>
<rect x="124.55" y="969.9" width="8.9" height="15.6" fill="#9199C0" stroke="#8089B6" stroke-width="0.8"/>
<rect x="140.7" y="931.65" width="8.9" height="53.85" fill="#EFC78D" stroke="#E9BA76" stroke-width="0.8"/>
<rect x="167.85" y="974.15" width="8.9" height="11.35" fill="#9199C0" stroke="#8089B6" stroke-width="0.8"/>
<rect x="184" y="964.15" width="8.9" height="21.35" fill="#EFC78D" stroke="#E9BA76" stroke-width="0.8"/>
<circle cx="81.75" cy="965" r="1.7" fill="#1F3F82"/>
<circle cx="88.75" cy="965" r="1.7" fill="#1F3F82"/>
<circle cx="85.5" cy="969.5" r="1.7" fill="#1F3F82"/>
<circle cx="81.75" cy="973.75" r="1.7" fill="#1F3F82"/>
<circle cx="88.75" cy="973.75" r="1.7" fill="#1F3F82"/>
<circle cx="85.5" cy="978" r="1.7" fill="#1F3F82"/>
<path d="M85.8 968.75V977.25M83 977.25H88.6M83 968.75H88.6" stroke="#1F3F82" stroke-width="1.2" fill="none"/>
<rect x="96.25" y="954.5" width="3.5" height="3.5" fill="#E2921C"/>
<rect x="96.25" y="958.25" width="3.5" height="3.5" fill="#E2921C"/>
<rect x="100" y="958.75" width="3.5" height="3.5" fill="#E2921C"/>
<rect x="103.75" y="958.25" width="3.5" height="3.5" fill="#E2921C"/>
<rect x="96.25" y="965.75" width="3.5" height="3.5" fill="#E2921C"/>
<rect x="100" y="965.75" width="3.5" height="3.5" fill="#E2921C"/>
<path d="M101.95 958.75V962.5M99.15 962.5H104.75M99.15 958.75H104.75" stroke="#E2921C" stroke-width="1.2" fill="none"/>
<circle cx="128.75" cy="961.25" r="1.7" fill="#1F3F82"/>
<circle cx="128.75" cy="965" r="1.7" fill="#1F3F82"/>
<circle cx="125" cy="972.5" r="1.7" fill="#1F3F82"/>
<circle cx="132.5" cy="972.5" r="1.7" fill="#1F3F82"/>
<circle cx="128.75" cy="970" r="1.7" fill="#1F3F82"/>
<path d="M129 965V973.75M126.2 973.75H131.8M126.2 965H131.8" stroke="#1F3F82" stroke-width="1.2" fill="none"/>
<rect x="139.5" y="919.5" width="3.5" height="3.5" fill="#E2921C"/>
<rect x="147" y="918.25" width="3.5" height="3.5" fill="#E2921C"/>
<rect x="143.25" y="929.5" width="3.5" height="3.5" fill="#E2921C"/>
<rect x="143.25" y="924.5" width="3.5" height="3.5" fill="#E2921C"/>
<rect x="143.25" y="950.75" width="3.5" height="3.5" fill="#E2921C"/>
<path d="M145.15 924.5V937M142.35 937H147.95M142.35 924.5H147.95" stroke="#E2921C" stroke-width="1.2" fill="none"/>
<circle cx="168.75" cy="972.5" r="1.7" fill="#1F3F82"/>
<circle cx="172" cy="974.5" r="1.7" fill="#1F3F82"/>
<circle cx="175.5" cy="973.75" r="1.7" fill="#1F3F82"/>
<circle cx="168.75" cy="975" r="1.7" fill="#1F3F82"/>
<rect x="182.5" y="953.25" width="3.5" height="3.5" fill="#E2921C"/>
<rect x="190" y="952.75" width="3.5" height="3.5" fill="#E2921C"/>
<rect x="186.25" y="958.25" width="3.5" height="3.5" fill="#E2921C"/>
<rect x="182.5" y="967.75" width="3.5" height="3.5" fill="#E2921C"/>
<rect x="190" y="965.75" width="3.5" height="3.5" fill="#E2921C"/>
<path d="M188.45 959.5V967.5M185.65 967.5H191.25M185.65 959.5H191.25" stroke="#E2921C" stroke-width="1.2" fill="none"/>
<path d="M74.75 898.75V985.5M69.75 985.5H199.5" stroke="#1a1a1a" stroke-width="1.7" fill="none"/>
<path d="M69.75 902.5H74.75M69.75 923.25H74.75M69.75 944H74.75M69.75 964.75H74.75M69.75 985.5H74.75M93.9 985.5V989.5M137.1 985.5V989.5M180.4 985.5V989.5" stroke="#1a1a1a" stroke-width="1.4" fill="none"/>
<text x="65.45" y="905.55" font-size="9.3" fill="#333" text-anchor="end" textLength="12.73" lengthAdjust="spacingAndGlyphs">1.0</text>
<text x="65.45" y="926.3" font-size="9.3" fill="#333" text-anchor="end" textLength="17.83" lengthAdjust="spacingAndGlyphs">0.75</text>
<text x="65.45" y="947.05" font-size="9.3" fill="#333" text-anchor="end" textLength="17.83" lengthAdjust="spacingAndGlyphs">0.50</text>
<text x="65.45" y="967.8" font-size="9.3" fill="#333" text-anchor="end" textLength="17.83" lengthAdjust="spacingAndGlyphs">0.25</text>
<text x="65.45" y="988.55" font-size="9.3" fill="#333" text-anchor="end" textLength="12.73" lengthAdjust="spacingAndGlyphs">0.0</text>
<text x="93.9" y="1002.8" font-size="10.9" fill="#333" text-anchor="middle" textLength="29.6" lengthAdjust="spacingAndGlyphs">Spleen</text>
<text x="137.1" y="1002.8" font-size="10.9" fill="#333" text-anchor="middle" textLength="20.4" lengthAdjust="spacingAndGlyphs">Liver</text>
<text x="180.4" y="1002.8" font-size="10.9" fill="#333" text-anchor="middle" textLength="24.8" lengthAdjust="spacingAndGlyphs">Colon</text>
<path d="M82 952.5H101.75" stroke="#222" stroke-width="1.3" fill="none"/>
<text x="92.08" y="952.8" font-size="8.5" fill="#222" text-anchor="middle" textLength="3.5" lengthAdjust="spacingAndGlyphs">*</text>
<path d="M126.75 910.5H146.75" stroke="#222" stroke-width="1.3" fill="none"/>
<text x="136.95" y="910.8" font-size="8.5" fill="#222" text-anchor="middle" textLength="10.5" lengthAdjust="spacingAndGlyphs">***</text>
<path d="M169.25 946.25H185.5" stroke="#222" stroke-width="1.3" fill="none"/>
<text x="177.57" y="946.55" font-size="8.5" fill="#222" text-anchor="middle" textLength="7" lengthAdjust="spacingAndGlyphs">**</text>
<text transform="translate(39.5 941.95) rotate(-90)" x="0" y="0" font-size="13" fill="#333" stroke="#333" stroke-width="0.22" text-anchor="middle" textLength="128.7" lengthAdjust="spacingAndGlyphs">Yield of GM-CSF<tspan dy="-4.1" font-size="10.5">+</tspan><tspan dy="4.1"> </tspan>Th1 (X10<tspan dy="-4.4" font-size="9.5">6</tspan><tspan dy="4.4">)</tspan></text>
<rect x="280.6" y="974.15" width="8.9" height="11.35" fill="#9199C0" stroke="#8089B6" stroke-width="0.8"/>
<rect x="296.75" y="937.4" width="8.9" height="48.1" fill="#EFC78D" stroke="#E9BA76" stroke-width="0.8"/>
<rect x="323.8" y="974.15" width="8.9" height="11.35" fill="#9199C0" stroke="#8089B6" stroke-width="0.8"/>
<rect x="339.95" y="948.4" width="8.9" height="37.1" fill="#EFC78D" stroke="#E9BA76" stroke-width="0.8"/>
<rect x="367.1" y="984.15" width="8.9" height="1.35" fill="#9199C0" stroke="#8089B6" stroke-width="0.8"/>
<rect x="383.25" y="981.65" width="8.9" height="3.85" fill="#EFC78D" stroke="#E9BA76" stroke-width="0.8"/>
<circle cx="285" cy="968" r="1.7" fill="#1F3F82"/>
<circle cx="281.25" cy="973" r="1.7" fill="#1F3F82"/>
<circle cx="288.75" cy="975.5" r="1.7" fill="#1F3F82"/>
<circle cx="281.25" cy="978.75" r="1.7" fill="#1F3F82"/>
<circle cx="285" cy="974" r="1.7" fill="#1F3F82"/>
<path d="M285.05 971.25V976.25M282.25 976.25H287.85M282.25 971.25H287.85" stroke="#1F3F82" stroke-width="1.2" fill="none"/>
<rect x="299.5" y="914.5" width="3.5" height="3.5" fill="#E2921C"/>
<rect x="299.5" y="924.5" width="3.5" height="3.5" fill="#E2921C"/>
<rect x="295.75" y="939.5" width="3.5" height="3.5" fill="#E2921C"/>
<rect x="303.25" y="937" width="3.5" height="3.5" fill="#E2921C"/>
<rect x="299.5" y="951.25" width="3.5" height="3.5" fill="#E2921C"/>
<path d="M301.2 928.75V945.5M298.4 945.5H304M298.4 928.75H304" stroke="#E2921C" stroke-width="1.2" fill="none"/>
<circle cx="324.25" cy="973" r="1.7" fill="#1F3F82"/>
<circle cx="328" cy="973" r="1.7" fill="#1F3F82"/>
<circle cx="332" cy="969.5" r="1.7" fill="#1F3F82"/>
<circle cx="324.25" cy="976.25" r="1.7" fill="#1F3F82"/>
<circle cx="332" cy="976.25" r="1.7" fill="#1F3F82"/>
<rect x="338.75" y="934.5" width="3.5" height="3.5" fill="#E2921C"/>
<rect x="346.5" y="931.5" width="3.5" height="3.5" fill="#E2921C"/>
<rect x="342.75" y="943.75" width="3.5" height="3.5" fill="#E2921C"/>
<rect x="342.75" y="950.75" width="3.5" height="3.5" fill="#E2921C"/>
<rect x="342.75" y="966.25" width="3.5" height="3.5" fill="#E2921C"/>
<path d="M344.4 940.5V953.75M341.6 953.75H347.2M341.6 940.5H347.2" stroke="#E2921C" stroke-width="1.2" fill="none"/>
<circle cx="368" cy="983.75" r="1.7" fill="#1F3F82"/>
<circle cx="371.25" cy="983" r="1.7" fill="#1F3F82"/>
<circle cx="375" cy="983.75" r="1.7" fill="#1F3F82"/>
<rect x="382.5" y="980.75" width="3.5" height="3.5" fill="#E2921C"/>
<rect x="386.25" y="975.75" width="3.5" height="3.5" fill="#E2921C"/>
<rect x="390" y="978.75" width="3.5" height="3.5" fill="#E2921C"/>
<rect x="384.25" y="979.25" width="3.5" height="3.5" fill="#E2921C"/>
<path d="M387.7 979V983.5M384.9 983.5H390.5M384.9 979H390.5" stroke="#E2921C" stroke-width="1.2" fill="none"/>
<path d="M274 898.75V985.5M269 985.5H399.25" stroke="#1a1a1a" stroke-width="1.7" fill="none"/>
<path d="M269 902.5H274M269 923.25H274M269 944H274M269 964.75H274M269 985.5H274M293.15 985.5V989.5M336.35 985.5V989.5M379.65 985.5V989.5" stroke="#1a1a1a" stroke-width="1.4" fill="none"/>
<text x="264.7" y="905.55" font-size="9.3" fill="#333" text-anchor="end" textLength="17.83" lengthAdjust="spacingAndGlyphs">0.40</text>
<text x="264.7" y="926.3" font-size="9.3" fill="#333" text-anchor="end" textLength="17.83" lengthAdjust="spacingAndGlyphs">0.30</text>
<text x="264.7" y="947.05" font-size="9.3" fill="#333" text-anchor="end" textLength="17.83" lengthAdjust="spacingAndGlyphs">0.20</text>
<text x="264.7" y="967.8" font-size="9.3" fill="#333" text-anchor="end" textLength="17.83" lengthAdjust="spacingAndGlyphs">0.10</text>
<text x="264.7" y="988.55" font-size="9.3" fill="#333" text-anchor="end" textLength="5.09" lengthAdjust="spacingAndGlyphs">0</text>
<text x="293.15" y="1002.8" font-size="10.9" fill="#333" text-anchor="middle" textLength="29.6" lengthAdjust="spacingAndGlyphs">Spleen</text>
<text x="336.35" y="1002.8" font-size="10.9" fill="#333" text-anchor="middle" textLength="20.4" lengthAdjust="spacingAndGlyphs">Liver</text>
<text x="379.65" y="1002.8" font-size="10.9" fill="#333" text-anchor="middle" textLength="24.8" lengthAdjust="spacingAndGlyphs">Colon</text>
<path d="M282.7 908.8H300.9" stroke="#222" stroke-width="1.3" fill="none"/>
<text x="292" y="909.1" font-size="8.5" fill="#222" text-anchor="middle" textLength="10.5" lengthAdjust="spacingAndGlyphs">***</text>
<path d="M323.25 927H344.5" stroke="#222" stroke-width="1.3" fill="none"/>
<text x="334.07" y="927.3" font-size="8.5" fill="#222" text-anchor="middle" textLength="7" lengthAdjust="spacingAndGlyphs">**</text>
<path d="M373.25 970.75H388.25" stroke="#222" stroke-width="1.3" fill="none"/>
<text x="380.95" y="971.05" font-size="8.5" fill="#222" text-anchor="middle" textLength="3.5" lengthAdjust="spacingAndGlyphs">*</text>
<text transform="translate(238.5 942.05) rotate(-90)" x="0" y="0" font-size="13" fill="#333" stroke="#333" stroke-width="0.22" text-anchor="middle" textLength="128.5" lengthAdjust="spacingAndGlyphs">Yield of GM-CSF<tspan dy="-4.1" font-size="10.5">+</tspan><tspan dy="4.1"> </tspan>Tc1 (X10<tspan dy="-4.4" font-size="9.5">6</tspan><tspan dy="4.4">)</tspan></text>
<circle cx="424.6" cy="16.6" r="2.65" fill="#B5112F"/>
<text x="431.6" y="18.9" font-size="8" fill="#333" textLength="42.7" lengthAdjust="spacingAndGlyphs">WT Rec-IgG</text>
<circle cx="424.6" cy="29.8" r="2.65" fill="#1F3F82"/>
<text x="431.6" y="32.1" font-size="8" fill="#333" textLength="59.2" lengthAdjust="spacingAndGlyphs">WT Rec-anti-IL-2</text>
<text x="431.6" y="41.7" font-size="8" fill="#333" textLength="43" lengthAdjust="spacingAndGlyphs">(JES6-1A12)</text>
<circle cx="424.6" cy="266.6" r="2.65" fill="#B5112F"/>
<text x="431.6" y="268.9" font-size="8" fill="#333" textLength="42.7" lengthAdjust="spacingAndGlyphs">WT Rec-IgG</text>
<rect x="422" y="277.4" width="4.8" height="4.8" fill="#5AA536"/>
<text x="431.6" y="282.1" font-size="8" fill="#333" textLength="59.2" lengthAdjust="spacingAndGlyphs">WT Rec-anti-IL-2</text>
<text x="431.6" y="291.7" font-size="8" fill="#333" textLength="22.5" lengthAdjust="spacingAndGlyphs">(S4B6)</text>
<circle cx="424.6" cy="520.5" r="2.65" fill="#4E1A63"/>
<text x="431.6" y="522.8" font-size="8" fill="#333" textLength="57" lengthAdjust="spacingAndGlyphs">PD-L1<tspan dy="-3" font-size="5.5">-/-</tspan><tspan dy="3">Rec</tspan>-IgG</text>
<circle cx="424.6" cy="533.7" r="2.65" fill="#E2921C"/>
<text x="431.6" y="536" font-size="8" fill="#333" textLength="75" lengthAdjust="spacingAndGlyphs">PD-L1<tspan dy="-3" font-size="5.5">-/-</tspan><tspan dy="3">Rec</tspan> -anti-IL-2</text>
<text x="431.6" y="545.6" font-size="8" fill="#333" textLength="43" lengthAdjust="spacingAndGlyphs">(JES6-1A12)</text>
<circle cx="424.6" cy="770.4" r="2.65" fill="#1F3F82"/>
<text x="431.6" y="772.7" font-size="8" fill="#333" textLength="59.2" lengthAdjust="spacingAndGlyphs">WT Rec-anti-IL-2</text>
<text x="431.6" y="782.3" font-size="8" fill="#333" textLength="43" lengthAdjust="spacingAndGlyphs">(JES6-1A12)</text>
<rect x="422" y="790.8" width="4.8" height="4.8" fill="#E2921C"/>
<text x="431.6" y="795.5" font-size="8" fill="#333" textLength="75" lengthAdjust="spacingAndGlyphs">PD-L1<tspan dy="-3" font-size="5.5">-/-</tspan><tspan dy="3">Rec</tspan> -anti-IL-2</text>
<text x="431.6" y="805.1" font-size="8" fill="#333" textLength="43" lengthAdjust="spacingAndGlyphs">(JES6-1A12)</text>
<text x="10.4" y="24.7" font-size="18" fill="#000" textLength="13" lengthAdjust="spacingAndGlyphs" font-weight="bold">A</text>
<text x="10.6" y="275.7" font-size="18" fill="#000" textLength="12" lengthAdjust="spacingAndGlyphs" font-weight="bold">B</text>
<text x="10.4" y="525.6" font-size="18" fill="#000" textLength="12.2" lengthAdjust="spacingAndGlyphs" font-weight="bold">C</text>
<text x="10.6" y="777.7" font-size="18" fill="#000" textLength="12.6" lengthAdjust="spacingAndGlyphs" font-weight="bold">D</text>
<rect x="0.9" y="0.9" width="518.2" height="1014.2" fill="none" stroke="#000" stroke-width="1.8"/>
</svg>
</body></html>
